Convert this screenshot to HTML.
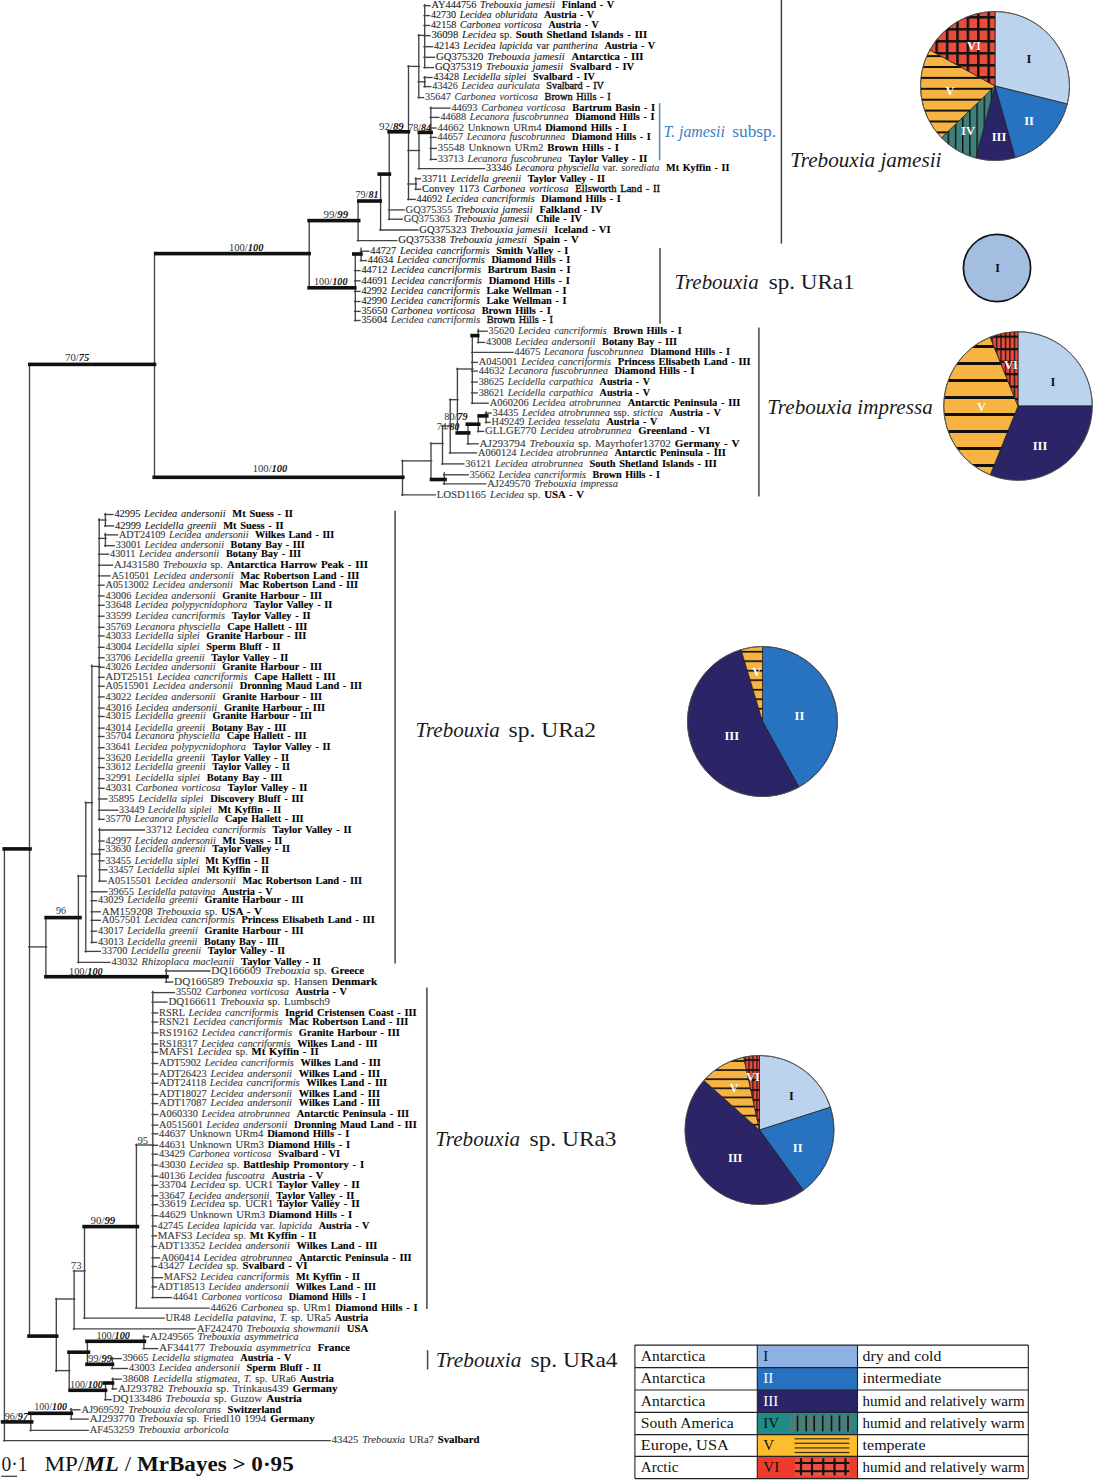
<!DOCTYPE html>
<html><head><meta charset="utf-8"><style>
html,body{margin:0;padding:0;background:#fff;}
svg{display:block;font-family:"Liberation Serif",serif;}
.lb{word-spacing:1.0px;}

</style></head><body>
<svg width="1093" height="1480" viewBox="0 0 1093 1480">
<defs><pattern id="p1V" patternUnits="userSpaceOnUse" x="0" y="87.80" width="200" height="10.9"><rect width="200" height="10.9" fill="#f8b443"/><rect y="0" width="200" height="2.0" fill="#111"/></pattern><pattern id="p1IV" patternUnits="userSpaceOnUse" x="947.60" y="0" width="7.2" height="200"><rect width="7.2" height="200" fill="#3f807a"/><rect x="0" width="1.4" height="200" fill="#111"/></pattern><pattern id="p1VI" patternUnits="userSpaceOnUse" x="935.45" y="16.05" width="10.4" height="12.0"><rect width="10.4" height="12.0" fill="#e94c3b"/><rect x="0" width="2.5" height="12.0" fill="#111"/><rect y="0" width="10.4" height="2.5" fill="#111"/></pattern><pattern id="p3V" patternUnits="userSpaceOnUse" x="0" y="345.00" width="200" height="17.0"><rect width="200" height="17.0" fill="#f8b443"/><rect y="0" width="200" height="3.0" fill="#111"/></pattern><pattern id="p3VI" patternUnits="userSpaceOnUse" x="1000.35" y="335.60" width="4.46" height="12.5"><rect width="4.46" height="12.5" fill="#e94c3b"/><rect x="0" width="1.3" height="12.5" fill="#111"/><rect y="0" width="4.46" height="2.2" fill="#111"/></pattern><pattern id="p4V" patternUnits="userSpaceOnUse" x="0" y="650.85" width="200" height="9.5"><rect width="200" height="9.5" fill="#f8b443"/><rect y="0" width="200" height="1.7" fill="#111"/></pattern><pattern id="p5V" patternUnits="userSpaceOnUse" x="0" y="1060.15" width="200" height="9.1"><rect width="200" height="9.1" fill="#f8b443"/><rect y="0" width="200" height="1.7" fill="#111"/></pattern><pattern id="p5VI" patternUnits="userSpaceOnUse" x="756.40" y="1059.10" width="4.0" height="10.0"><rect width="4.0" height="10.0" fill="#e94c3b"/><rect x="0" width="1.2" height="10.0" fill="#111"/><rect y="0" width="4.0" height="1.8" fill="#111"/></pattern></defs>
<rect width="1093" height="1480" fill="#fff"/>
<line x1="423.3" y1="5.7" x2="430.7" y2="5.7" stroke="#444" stroke-width="1.35"/>
<text x="431.5" y="8.4" font-size="9.6" class="lb" textLength="182.7" lengthAdjust="spacingAndGlyphs"><tspan  fill="#1c1c1c" stroke="#1c1c1c" stroke-width="0.1">AY444756 </tspan><tspan font-style="italic" fill="#1c1c1c" stroke="#1c1c1c" stroke-width="0.1">Trebouxia jamesii </tspan><tspan dx="2.8" font-weight="bold" fill="#000" stroke="#000" stroke-width="0.1">Finland - V</tspan></text>
<line x1="423.3" y1="15.6" x2="430.2" y2="15.6" stroke="#444" stroke-width="1.35"/>
<text x="431.0" y="18.3" font-size="9.6" class="lb" textLength="163.1" lengthAdjust="spacingAndGlyphs"><tspan  fill="#1c1c1c" stroke="#1c1c1c" stroke-width="0.1">42730 </tspan><tspan font-style="italic" fill="#1c1c1c" stroke="#1c1c1c" stroke-width="0.1">Lecidea obluridata </tspan><tspan dx="2.8" font-weight="bold" fill="#000" stroke="#000" stroke-width="0.1">Austria - V</tspan></text>
<line x1="423.3" y1="25.5" x2="430.2" y2="25.5" stroke="#444" stroke-width="1.35"/>
<text x="431.0" y="28.2" font-size="9.6" class="lb" textLength="167.8" lengthAdjust="spacingAndGlyphs"><tspan  fill="#1c1c1c" stroke="#1c1c1c" stroke-width="0.1">42158 </tspan><tspan font-style="italic" fill="#1c1c1c" stroke="#1c1c1c" stroke-width="0.1">Carbonea vorticosa </tspan><tspan dx="2.8" font-weight="bold" fill="#000" stroke="#000" stroke-width="0.1">Austria - V</tspan></text>
<line x1="423.3" y1="35.7" x2="430.7" y2="35.7" stroke="#444" stroke-width="1.35"/>
<text x="431.5" y="38.4" font-size="9.6" class="lb" textLength="215.7" lengthAdjust="spacingAndGlyphs"><tspan  fill="#1c1c1c" stroke="#1c1c1c" stroke-width="0.1">36098 </tspan><tspan font-style="italic" fill="#1c1c1c" stroke="#1c1c1c" stroke-width="0.1">Lecidea </tspan><tspan  fill="#1c1c1c" stroke="#1c1c1c" stroke-width="0.1"> sp. </tspan><tspan font-weight="bold" fill="#000" stroke="#000" stroke-width="0.1">South Shetland Islands - III</tspan></text>
<line x1="423.3" y1="46.7" x2="433.2" y2="46.7" stroke="#444" stroke-width="1.35"/>
<text x="434.0" y="49.4" font-size="9.6" class="lb" textLength="221.2" lengthAdjust="spacingAndGlyphs"><tspan  fill="#1c1c1c" stroke="#1c1c1c" stroke-width="0.1">42143 </tspan><tspan font-style="italic" fill="#1c1c1c" stroke="#1c1c1c" stroke-width="0.1">Lecidea lapicida </tspan><tspan  fill="#1c1c1c" stroke="#1c1c1c" stroke-width="0.1">var </tspan><tspan font-style="italic" fill="#1c1c1c" stroke="#1c1c1c" stroke-width="0.1">pantherina </tspan><tspan dx="2.8" font-weight="bold" fill="#000" stroke="#000" stroke-width="0.1">Austria - V</tspan></text>
<line x1="423.3" y1="57.3" x2="435.2" y2="57.3" stroke="#444" stroke-width="1.35"/>
<text x="436.0" y="60.0" font-size="9.6" class="lb" textLength="207.5" lengthAdjust="spacingAndGlyphs"><tspan  fill="#1c1c1c" stroke="#1c1c1c" stroke-width="0.1">GQ375320 </tspan><tspan font-style="italic" fill="#1c1c1c" stroke="#1c1c1c" stroke-width="0.1">Trebouxia jamesii </tspan><tspan dx="2.8" font-weight="bold" fill="#000" stroke="#000" stroke-width="0.1">Antarctica - III</tspan></text>
<line x1="423.3" y1="67.6" x2="434.1" y2="67.6" stroke="#444" stroke-width="1.35"/>
<text x="434.9" y="70.3" font-size="9.6" class="lb" textLength="199.4" lengthAdjust="spacingAndGlyphs"><tspan  fill="#1c1c1c" stroke="#1c1c1c" stroke-width="0.1">GQ375319 </tspan><tspan font-style="italic" fill="#1c1c1c" stroke="#1c1c1c" stroke-width="0.1">Trebouxia jamesii </tspan><tspan dx="2.8" font-weight="bold" fill="#000" stroke="#000" stroke-width="0.1">Svalbard - IV</tspan></text>
<line x1="423.3" y1="77.5" x2="432.7" y2="77.5" stroke="#444" stroke-width="1.35"/>
<text x="433.5" y="80.2" font-size="9.6" class="lb" textLength="161.3" lengthAdjust="spacingAndGlyphs"><tspan  fill="#1c1c1c" stroke="#1c1c1c" stroke-width="0.1">43428 </tspan><tspan font-style="italic" fill="#1c1c1c" stroke="#1c1c1c" stroke-width="0.1">Lecidella siplei </tspan><tspan dx="2.8" font-weight="bold" fill="#000" stroke="#000" stroke-width="0.1"> Svalbard - IV</tspan></text>
<line x1="423.3" y1="86.6" x2="431.5" y2="86.6" stroke="#444" stroke-width="1.35"/>
<text x="432.3" y="89.3" font-size="9.6" class="lb" textLength="171.7" lengthAdjust="spacingAndGlyphs"><tspan  fill="#3a3a3a" stroke="#3a3a3a" stroke-width="0.1">43426 </tspan><tspan font-style="italic" fill="#3a3a3a" stroke="#3a3a3a" stroke-width="0.1">Lecidea auriculata </tspan><tspan dx="2.8" fill="#111" stroke="#111" stroke-width="0.35">Svalbard - IV</tspan></text>
<line x1="417.4" y1="97.6" x2="424.2" y2="97.6" stroke="#444" stroke-width="1.35"/>
<text x="425.0" y="100.3" font-size="9.6" class="lb" textLength="185.6" lengthAdjust="spacingAndGlyphs"><tspan  fill="#3a3a3a" stroke="#3a3a3a" stroke-width="0.1">35647 </tspan><tspan font-style="italic" fill="#3a3a3a" stroke="#3a3a3a" stroke-width="0.1">Carbonea vorticosa </tspan><tspan dx="2.8" fill="#111" stroke="#111" stroke-width="0.35">Brown Hills - I</tspan></text>
<line x1="429.5" y1="108.1" x2="450.6" y2="108.1" stroke="#444" stroke-width="1.35"/>
<text x="451.4" y="110.8" font-size="9.6" class="lb" textLength="203.8" lengthAdjust="spacingAndGlyphs"><tspan  fill="#3a3a3a" stroke="#3a3a3a" stroke-width="0.1">44693 </tspan><tspan font-style="italic" fill="#3a3a3a" stroke="#3a3a3a" stroke-width="0.1">Carbonea vorticosa </tspan><tspan dx="2.8" font-weight="bold" fill="#000" stroke="#000" stroke-width="0.1">Bartrum Basin - I</tspan></text>
<line x1="429.5" y1="117.4" x2="439.6" y2="117.4" stroke="#444" stroke-width="1.35"/>
<text x="440.4" y="120.1" font-size="9.6" class="lb" textLength="214.1" lengthAdjust="spacingAndGlyphs"><tspan  fill="#3a3a3a" stroke="#3a3a3a" stroke-width="0.1">44688 </tspan><tspan font-style="italic" fill="#3a3a3a" stroke="#3a3a3a" stroke-width="0.1">Lecanora fuscobrunnea </tspan><tspan dx="2.8" font-weight="bold" fill="#000" stroke="#000" stroke-width="0.1">Diamond Hills - I</tspan></text>
<line x1="429.5" y1="128.0" x2="436.7" y2="128.0" stroke="#444" stroke-width="1.35"/>
<text x="437.5" y="130.7" font-size="9.6" class="lb" textLength="189.5" lengthAdjust="spacingAndGlyphs"><tspan  fill="#3a3a3a" stroke="#3a3a3a" stroke-width="0.1">44662 Unknown URm4 </tspan><tspan font-weight="bold" fill="#000" stroke="#000" stroke-width="0.1">Diamond Hills - I</tspan></text>
<line x1="429.5" y1="137.4" x2="436.7" y2="137.4" stroke="#444" stroke-width="1.35"/>
<text x="437.5" y="140.1" font-size="9.6" class="lb" textLength="213.3" lengthAdjust="spacingAndGlyphs"><tspan  fill="#3a3a3a" stroke="#3a3a3a" stroke-width="0.1">44657 </tspan><tspan font-style="italic" fill="#3a3a3a" stroke="#3a3a3a" stroke-width="0.1">Lecanora fuscobrunnea </tspan><tspan dx="2.8" font-weight="bold" fill="#000" stroke="#000" stroke-width="0.1">Diamond Hills - I</tspan></text>
<line x1="429.5" y1="148.4" x2="437.0" y2="148.4" stroke="#444" stroke-width="1.35"/>
<text x="437.8" y="151.1" font-size="9.6" class="lb" textLength="181.2" lengthAdjust="spacingAndGlyphs"><tspan  fill="#3a3a3a" stroke="#3a3a3a" stroke-width="0.1">35548 Unknown URm2 </tspan><tspan font-weight="bold" fill="#000" stroke="#000" stroke-width="0.1">Brown Hills - I</tspan></text>
<line x1="429.5" y1="159.4" x2="437.0" y2="159.4" stroke="#444" stroke-width="1.35"/>
<text x="437.8" y="162.1" font-size="9.6" class="lb" textLength="209.4" lengthAdjust="spacingAndGlyphs"><tspan  fill="#3a3a3a" stroke="#3a3a3a" stroke-width="0.1">33713 </tspan><tspan font-style="italic" fill="#3a3a3a" stroke="#3a3a3a" stroke-width="0.1">Lecanora fuscobrunea </tspan><tspan dx="2.8" font-weight="bold" fill="#000" stroke="#000" stroke-width="0.1">Taylor Valley - II</tspan></text>
<line x1="417.6" y1="168.6" x2="485.3" y2="168.6" stroke="#444" stroke-width="1.35"/>
<text x="486.1" y="171.3" font-size="9.6" class="lb" textLength="243.4" lengthAdjust="spacingAndGlyphs"><tspan  fill="#1c1c1c" stroke="#1c1c1c" stroke-width="0.1">33346 </tspan><tspan font-style="italic" fill="#1c1c1c" stroke="#1c1c1c" stroke-width="0.1">Lecanora physciella </tspan><tspan  fill="#3a3a3a" stroke="#3a3a3a" stroke-width="0.1">var. </tspan><tspan font-style="italic" fill="#3a3a3a" stroke="#3a3a3a" stroke-width="0.1">sorediata </tspan><tspan dx="2.8" font-weight="bold" fill="#000" stroke="#000" stroke-width="0.1">Mt Kyffin - II</tspan></text>
<line x1="414.5" y1="178.8" x2="421.2" y2="178.8" stroke="#444" stroke-width="1.35"/>
<text x="422.0" y="181.5" font-size="9.6" class="lb" textLength="183.0" lengthAdjust="spacingAndGlyphs"><tspan  fill="#1c1c1c" stroke="#1c1c1c" stroke-width="0.1">33711 </tspan><tspan font-style="italic" fill="#1c1c1c" stroke="#1c1c1c" stroke-width="0.1">Lecidella greenii </tspan><tspan dx="2.8" font-weight="bold" fill="#000" stroke="#000" stroke-width="0.1">Taylor Valley - II</tspan></text>
<line x1="414.5" y1="189.3" x2="421.2" y2="189.3" stroke="#444" stroke-width="1.35"/>
<text x="422.0" y="192.0" font-size="9.6" class="lb" textLength="238.0" lengthAdjust="spacingAndGlyphs"><tspan  fill="#1c1c1c" stroke="#1c1c1c" stroke-width="0.1">Convey 1173 </tspan><tspan font-style="italic" fill="#1c1c1c" stroke="#1c1c1c" stroke-width="0.1">Carbonea vorticosa </tspan><tspan dx="2.8" fill="#111" stroke="#111" stroke-width="0.35">Ellsworth Land - II</tspan></text>
<line x1="407.1" y1="199.4" x2="415.8" y2="199.4" stroke="#444" stroke-width="1.35"/>
<text x="416.6" y="202.1" font-size="9.6" class="lb" textLength="204.2" lengthAdjust="spacingAndGlyphs"><tspan  fill="#1c1c1c" stroke="#1c1c1c" stroke-width="0.1">44692 </tspan><tspan font-style="italic" fill="#1c1c1c" stroke="#1c1c1c" stroke-width="0.1">Lecidea cancriformis </tspan><tspan dx="2.8" font-weight="bold" fill="#000" stroke="#000" stroke-width="0.1">Diamond Hills - I</tspan></text>
<line x1="387.8" y1="209.9" x2="404.8" y2="209.9" stroke="#444" stroke-width="1.35"/>
<text x="405.6" y="212.6" font-size="9.6" class="lb" textLength="196.9" lengthAdjust="spacingAndGlyphs"><tspan  fill="#3a3a3a" stroke="#3a3a3a" stroke-width="0.1">GQ375355 </tspan><tspan font-style="italic" fill="#1c1c1c" stroke="#1c1c1c" stroke-width="0.1">Trebouxia jamesii </tspan><tspan dx="2.8" font-weight="bold" fill="#000" stroke="#000" stroke-width="0.1">Falkland - IV</tspan></text>
<line x1="387.8" y1="219.2" x2="403.0" y2="219.2" stroke="#444" stroke-width="1.35"/>
<text x="403.8" y="221.9" font-size="9.6" class="lb" textLength="178.2" lengthAdjust="spacingAndGlyphs"><tspan  fill="#3a3a3a" stroke="#3a3a3a" stroke-width="0.1">GQ375363 </tspan><tspan font-style="italic" fill="#1c1c1c" stroke="#1c1c1c" stroke-width="0.1">Trebouxia jamesii </tspan><tspan dx="2.8" font-weight="bold" fill="#000" stroke="#000" stroke-width="0.1">Chile - IV</tspan></text>
<line x1="379.2" y1="230.0" x2="418.5" y2="230.0" stroke="#444" stroke-width="1.35"/>
<text x="419.3" y="232.7" font-size="9.6" class="lb" textLength="191.3" lengthAdjust="spacingAndGlyphs"><tspan  fill="#1c1c1c" stroke="#1c1c1c" stroke-width="0.1">GQ375323 </tspan><tspan font-style="italic" fill="#1c1c1c" stroke="#1c1c1c" stroke-width="0.1">Trebouxia jamesii </tspan><tspan dx="2.8" font-weight="bold" fill="#000" stroke="#000" stroke-width="0.1">Iceland - VI</tspan></text>
<line x1="356.7" y1="240.6" x2="397.5" y2="240.6" stroke="#444" stroke-width="1.35"/>
<text x="398.3" y="243.3" font-size="9.6" class="lb" textLength="180.3" lengthAdjust="spacingAndGlyphs"><tspan  fill="#1c1c1c" stroke="#1c1c1c" stroke-width="0.1">GQ375338 </tspan><tspan font-style="italic" fill="#1c1c1c" stroke="#1c1c1c" stroke-width="0.1">Trebouxia jamesii </tspan><tspan dx="2.8" font-weight="bold" fill="#000" stroke="#000" stroke-width="0.1">Spain - V</tspan></text>
<line x1="359.7" y1="251.2" x2="369.5" y2="251.2" stroke="#444" stroke-width="1.35"/>
<text x="370.3" y="253.9" font-size="9.6" class="lb" textLength="198.1" lengthAdjust="spacingAndGlyphs"><tspan  fill="#1c1c1c" stroke="#1c1c1c" stroke-width="0.1">44727 </tspan><tspan font-style="italic" fill="#1c1c1c" stroke="#1c1c1c" stroke-width="0.1">Lecidea cancriformis </tspan><tspan dx="2.8" font-weight="bold" fill="#000" stroke="#000" stroke-width="0.1">Smith Valley - I</tspan></text>
<line x1="359.7" y1="260.6" x2="367.0" y2="260.6" stroke="#444" stroke-width="1.35"/>
<text x="367.8" y="263.3" font-size="9.6" class="lb" textLength="202.4" lengthAdjust="spacingAndGlyphs"><tspan  fill="#1c1c1c" stroke="#1c1c1c" stroke-width="0.1">44634 </tspan><tspan font-style="italic" fill="#1c1c1c" stroke="#1c1c1c" stroke-width="0.1">Lecidea cancriformis </tspan><tspan dx="2.8" font-weight="bold" fill="#000" stroke="#000" stroke-width="0.1">Diamond Hills - I</tspan></text>
<line x1="353.9" y1="270.6" x2="360.6" y2="270.6" stroke="#444" stroke-width="1.35"/>
<text x="361.4" y="273.3" font-size="9.6" class="lb" textLength="209.2" lengthAdjust="spacingAndGlyphs"><tspan  fill="#1c1c1c" stroke="#1c1c1c" stroke-width="0.1">44712 </tspan><tspan font-style="italic" fill="#1c1c1c" stroke="#1c1c1c" stroke-width="0.1">Lecidea cancriformis </tspan><tspan dx="2.8" font-weight="bold" fill="#000" stroke="#000" stroke-width="0.1">Bartrum Basin - I</tspan></text>
<line x1="353.9" y1="280.8" x2="360.6" y2="280.8" stroke="#444" stroke-width="1.35"/>
<text x="361.4" y="283.5" font-size="9.6" class="lb" textLength="208.5" lengthAdjust="spacingAndGlyphs"><tspan  fill="#1c1c1c" stroke="#1c1c1c" stroke-width="0.1">44691 </tspan><tspan font-style="italic" fill="#1c1c1c" stroke="#1c1c1c" stroke-width="0.1">Lecidea cancriformis </tspan><tspan dx="2.8" font-weight="bold" fill="#000" stroke="#000" stroke-width="0.1">Diamond Hills - I</tspan></text>
<line x1="353.9" y1="291.4" x2="360.6" y2="291.4" stroke="#444" stroke-width="1.35"/>
<text x="361.4" y="294.1" font-size="9.6" class="lb" textLength="205.2" lengthAdjust="spacingAndGlyphs"><tspan  fill="#1c1c1c" stroke="#1c1c1c" stroke-width="0.1">42992 </tspan><tspan font-style="italic" fill="#1c1c1c" stroke="#1c1c1c" stroke-width="0.1">Lecidea cancriformis </tspan><tspan dx="2.8" font-weight="bold" fill="#000" stroke="#000" stroke-width="0.1">Lake Wellman - I</tspan></text>
<line x1="353.9" y1="301.5" x2="360.6" y2="301.5" stroke="#444" stroke-width="1.35"/>
<text x="361.4" y="304.2" font-size="9.6" class="lb" textLength="205.2" lengthAdjust="spacingAndGlyphs"><tspan  fill="#1c1c1c" stroke="#1c1c1c" stroke-width="0.1">42990 </tspan><tspan font-style="italic" fill="#1c1c1c" stroke="#1c1c1c" stroke-width="0.1">Lecidea cancriformis </tspan><tspan dx="2.8" font-weight="bold" fill="#000" stroke="#000" stroke-width="0.1">Lake Wellman - I</tspan></text>
<line x1="353.9" y1="311.4" x2="360.6" y2="311.4" stroke="#444" stroke-width="1.35"/>
<text x="361.4" y="314.1" font-size="9.6" class="lb" textLength="189.4" lengthAdjust="spacingAndGlyphs"><tspan  fill="#1c1c1c" stroke="#1c1c1c" stroke-width="0.1">35650 </tspan><tspan font-style="italic" fill="#1c1c1c" stroke="#1c1c1c" stroke-width="0.1">Carbonea vorticosa </tspan><tspan dx="2.8" font-weight="bold" fill="#000" stroke="#000" stroke-width="0.1">Brown Hills - I</tspan></text>
<line x1="353.9" y1="320.5" x2="360.6" y2="320.5" stroke="#444" stroke-width="1.35"/>
<text x="361.4" y="323.2" font-size="9.6" class="lb" textLength="191.6" lengthAdjust="spacingAndGlyphs"><tspan  fill="#1c1c1c" stroke="#1c1c1c" stroke-width="0.1">35604 </tspan><tspan font-style="italic" fill="#3a3a3a" stroke="#3a3a3a" stroke-width="0.1">Lecidea cancriformis </tspan><tspan dx="2.8" fill="#111" stroke="#111" stroke-width="0.35">Brown Hills - I</tspan></text>
<line x1="476.9" y1="331.2" x2="487.8" y2="331.2" stroke="#444" stroke-width="1.35"/>
<text x="488.6" y="333.9" font-size="9.6" class="lb" textLength="193.2" lengthAdjust="spacingAndGlyphs"><tspan  fill="#3a3a3a" stroke="#3a3a3a" stroke-width="0.1">35620 </tspan><tspan font-style="italic" fill="#3a3a3a" stroke="#3a3a3a" stroke-width="0.1">Lecidea cancriformis </tspan><tspan dx="2.8" font-weight="bold" fill="#000" stroke="#000" stroke-width="0.1">Brown Hills - I</tspan></text>
<line x1="476.9" y1="342.4" x2="485.2" y2="342.4" stroke="#444" stroke-width="1.35"/>
<text x="486.0" y="345.1" font-size="9.6" class="lb" textLength="191.0" lengthAdjust="spacingAndGlyphs"><tspan  fill="#3a3a3a" stroke="#3a3a3a" stroke-width="0.1">43008 </tspan><tspan font-style="italic" fill="#3a3a3a" stroke="#3a3a3a" stroke-width="0.1">Lecidea andersonii </tspan><tspan dx="2.8" font-weight="bold" fill="#000" stroke="#000" stroke-width="0.1">Botany Bay - III</tspan></text>
<line x1="470.9" y1="352.4" x2="513.7" y2="352.4" stroke="#444" stroke-width="1.35"/>
<text x="514.5" y="355.1" font-size="9.6" class="lb" textLength="215.6" lengthAdjust="spacingAndGlyphs"><tspan  fill="#3a3a3a" stroke="#3a3a3a" stroke-width="0.1">44675 </tspan><tspan font-style="italic" fill="#3a3a3a" stroke="#3a3a3a" stroke-width="0.1">Lecanora fuscobrunnea </tspan><tspan dx="2.8" font-weight="bold" fill="#000" stroke="#000" stroke-width="0.1">Diamond Hills - I</tspan></text>
<line x1="470.9" y1="362.4" x2="477.9" y2="362.4" stroke="#444" stroke-width="1.35"/>
<text x="478.7" y="365.1" font-size="9.6" class="lb" textLength="271.9" lengthAdjust="spacingAndGlyphs"><tspan  fill="#3a3a3a" stroke="#3a3a3a" stroke-width="0.1">A045001 </tspan><tspan font-style="italic" fill="#3a3a3a" stroke="#3a3a3a" stroke-width="0.1">Lecidea cancriformis </tspan><tspan dx="2.8" font-weight="bold" fill="#000" stroke="#000" stroke-width="0.1">Princess Elisabeth Land - III</tspan></text>
<line x1="470.9" y1="371.1" x2="477.9" y2="371.1" stroke="#444" stroke-width="1.35"/>
<text x="478.7" y="373.8" font-size="9.6" class="lb" textLength="215.9" lengthAdjust="spacingAndGlyphs"><tspan  fill="#3a3a3a" stroke="#3a3a3a" stroke-width="0.1">44632 </tspan><tspan font-style="italic" fill="#3a3a3a" stroke="#3a3a3a" stroke-width="0.1">Lecanora fuscobrunnea </tspan><tspan dx="2.8" font-weight="bold" fill="#000" stroke="#000" stroke-width="0.1">Diamond Hills - I</tspan></text>
<line x1="470.9" y1="382.1" x2="477.9" y2="382.1" stroke="#444" stroke-width="1.35"/>
<text x="478.7" y="384.8" font-size="9.6" class="lb" textLength="171.3" lengthAdjust="spacingAndGlyphs"><tspan  fill="#3a3a3a" stroke="#3a3a3a" stroke-width="0.1">38625 </tspan><tspan font-style="italic" fill="#3a3a3a" stroke="#3a3a3a" stroke-width="0.1">Lecidella carpathica </tspan><tspan dx="2.8" font-weight="bold" fill="#000" stroke="#000" stroke-width="0.1">Austria - V</tspan></text>
<line x1="470.9" y1="392.9" x2="477.9" y2="392.9" stroke="#444" stroke-width="1.35"/>
<text x="478.7" y="395.6" font-size="9.6" class="lb" textLength="171.3" lengthAdjust="spacingAndGlyphs"><tspan  fill="#3a3a3a" stroke="#3a3a3a" stroke-width="0.1">38621 </tspan><tspan font-style="italic" fill="#3a3a3a" stroke="#3a3a3a" stroke-width="0.1">Lecidella carpathica </tspan><tspan dx="2.8" font-weight="bold" fill="#000" stroke="#000" stroke-width="0.1">Austria - V</tspan></text>
<line x1="470.9" y1="403.2" x2="488.9" y2="403.2" stroke="#444" stroke-width="1.35"/>
<text x="489.7" y="405.9" font-size="9.6" class="lb" textLength="250.7" lengthAdjust="spacingAndGlyphs"><tspan  fill="#3a3a3a" stroke="#3a3a3a" stroke-width="0.1">A060206 </tspan><tspan font-style="italic" fill="#3a3a3a" stroke="#3a3a3a" stroke-width="0.1">Lecidea atrobrunnea </tspan><tspan dx="2.8" font-weight="bold" fill="#000" stroke="#000" stroke-width="0.1">Antarctic Peninsula - III</tspan></text>
<line x1="484.7" y1="413.1" x2="491.8" y2="413.1" stroke="#444" stroke-width="1.35"/>
<text x="492.6" y="415.8" font-size="9.6" class="lb" textLength="228.4" lengthAdjust="spacingAndGlyphs"><tspan  fill="#3a3a3a" stroke="#3a3a3a" stroke-width="0.1">34435 </tspan><tspan font-style="italic" fill="#3a3a3a" stroke="#3a3a3a" stroke-width="0.1">Lecidea atrobrunnea </tspan><tspan  fill="#3a3a3a" stroke="#3a3a3a" stroke-width="0.1">ssp. </tspan><tspan font-style="italic" fill="#3a3a3a" stroke="#3a3a3a" stroke-width="0.1">stictica </tspan><tspan dx="2.8" font-weight="bold" fill="#000" stroke="#000" stroke-width="0.1">Austria - V</tspan></text>
<line x1="484.7" y1="422.4" x2="490.7" y2="422.4" stroke="#444" stroke-width="1.35"/>
<text x="491.5" y="425.1" font-size="9.6" class="lb" textLength="165.8" lengthAdjust="spacingAndGlyphs"><tspan  fill="#3a3a3a" stroke="#3a3a3a" stroke-width="0.1">H49249 </tspan><tspan font-style="italic" fill="#3a3a3a" stroke="#3a3a3a" stroke-width="0.1">Lecidea tesselata </tspan><tspan dx="2.8" font-weight="bold" fill="#000" stroke="#000" stroke-width="0.1">Austria - V</tspan></text>
<line x1="476.9" y1="431.4" x2="484.2" y2="431.4" stroke="#444" stroke-width="1.35"/>
<text x="485.0" y="434.1" font-size="9.6" class="lb" textLength="225.0" lengthAdjust="spacingAndGlyphs"><tspan  fill="#3a3a3a" stroke="#3a3a3a" stroke-width="0.1">GLLGE770 </tspan><tspan font-style="italic" fill="#3a3a3a" stroke="#3a3a3a" stroke-width="0.1">Lecidea atrobrunnea </tspan><tspan dx="2.8" font-weight="bold" fill="#000" stroke="#000" stroke-width="0.1">Greenland - VI</tspan></text>
<line x1="466.6" y1="443.8" x2="478.7" y2="443.8" stroke="#444" stroke-width="1.35"/>
<text x="479.5" y="446.5" font-size="9.6" class="lb" textLength="260.2" lengthAdjust="spacingAndGlyphs"><tspan  fill="#3a3a3a" stroke="#3a3a3a" stroke-width="0.1">AJ293794 </tspan><tspan font-style="italic" fill="#3a3a3a" stroke="#3a3a3a" stroke-width="0.1">Trebouxia </tspan><tspan  fill="#3a3a3a" stroke="#3a3a3a" stroke-width="0.1">sp. Mayrhofer13702 </tspan><tspan font-weight="bold" fill="#000" stroke="#000" stroke-width="0.1">Germany - V</tspan></text>
<line x1="448.8" y1="452.9" x2="477.2" y2="452.9" stroke="#444" stroke-width="1.35"/>
<text x="478.0" y="455.6" font-size="9.6" class="lb" textLength="247.8" lengthAdjust="spacingAndGlyphs"><tspan  fill="#3a3a3a" stroke="#3a3a3a" stroke-width="0.1">A060124 </tspan><tspan font-style="italic" fill="#3a3a3a" stroke="#3a3a3a" stroke-width="0.1">Lecidea atrobrunnea </tspan><tspan dx="2.8" font-weight="bold" fill="#000" stroke="#000" stroke-width="0.1">Antarctic Peninsula - III</tspan></text>
<line x1="441.1" y1="463.9" x2="464.5" y2="463.9" stroke="#444" stroke-width="1.35"/>
<text x="465.3" y="466.6" font-size="9.6" class="lb" textLength="251.4" lengthAdjust="spacingAndGlyphs"><tspan  fill="#3a3a3a" stroke="#3a3a3a" stroke-width="0.1">36121 </tspan><tspan font-style="italic" fill="#3a3a3a" stroke="#3a3a3a" stroke-width="0.1">Lecidea atrobrunnea </tspan><tspan dx="2.8" font-weight="bold" fill="#000" stroke="#000" stroke-width="0.1">South Shetland Islands - III</tspan></text>
<line x1="442.9" y1="474.8" x2="468.9" y2="474.8" stroke="#444" stroke-width="1.35"/>
<text x="469.7" y="477.5" font-size="9.6" class="lb" textLength="190.3" lengthAdjust="spacingAndGlyphs"><tspan  fill="#3a3a3a" stroke="#3a3a3a" stroke-width="0.1">35662 </tspan><tspan font-style="italic" fill="#3a3a3a" stroke="#3a3a3a" stroke-width="0.1">Lecidea cancriformis </tspan><tspan dx="2.8" font-weight="bold" fill="#000" stroke="#000" stroke-width="0.1">Brown Hills - I</tspan></text>
<line x1="442.9" y1="483.9" x2="486.4" y2="483.9" stroke="#444" stroke-width="1.35"/>
<text x="487.2" y="486.6" font-size="9.6" class="lb" textLength="130.7" lengthAdjust="spacingAndGlyphs"><tspan  fill="#3a3a3a" stroke="#3a3a3a" stroke-width="0.1">AJ249570 </tspan><tspan font-style="italic" fill="#3a3a3a" stroke="#3a3a3a" stroke-width="0.1">Trebouxia impressa</tspan></text>
<line x1="401.1" y1="494.9" x2="435.9" y2="494.9" stroke="#444" stroke-width="1.35"/>
<text x="436.7" y="497.6" font-size="9.6" class="lb" textLength="147.5" lengthAdjust="spacingAndGlyphs"><tspan  fill="#3a3a3a" stroke="#3a3a3a" stroke-width="0.1">LOSD1165 </tspan><tspan font-style="italic" fill="#3a3a3a" stroke="#3a3a3a" stroke-width="0.1">Lecidea </tspan><tspan  fill="#3a3a3a" stroke="#3a3a3a" stroke-width="0.1"> sp. </tspan><tspan font-weight="bold" fill="#000" stroke="#000" stroke-width="0.1">USA - V</tspan></text>
<line x1="104.0" y1="514.5" x2="113.6" y2="514.5" stroke="#444" stroke-width="1.35"/>
<text x="114.4" y="517.2" font-size="9.6" class="lb" textLength="178.4" lengthAdjust="spacingAndGlyphs"><tspan  fill="#1c1c1c" stroke="#1c1c1c" stroke-width="0.1">42995 </tspan><tspan font-style="italic" fill="#1c1c1c" stroke="#1c1c1c" stroke-width="0.1">Lecidea andersonii </tspan><tspan dx="2.8" font-weight="bold" fill="#000" stroke="#000" stroke-width="0.1">Mt Suess - II</tspan></text>
<line x1="104.0" y1="525.9" x2="114.2" y2="525.9" stroke="#444" stroke-width="1.35"/>
<text x="115.0" y="528.6" font-size="9.6" class="lb" textLength="168.6" lengthAdjust="spacingAndGlyphs"><tspan  fill="#1c1c1c" stroke="#1c1c1c" stroke-width="0.1">42999 </tspan><tspan font-style="italic" fill="#1c1c1c" stroke="#1c1c1c" stroke-width="0.1">Lecidella greenii </tspan><tspan dx="2.8" font-weight="bold" fill="#000" stroke="#000" stroke-width="0.1">Mt Suess - II</tspan></text>
<line x1="104.0" y1="534.9" x2="118.2" y2="534.9" stroke="#444" stroke-width="1.35"/>
<text x="119.0" y="537.6" font-size="9.6" class="lb" textLength="215.3" lengthAdjust="spacingAndGlyphs"><tspan  fill="#3a3a3a" stroke="#3a3a3a" stroke-width="0.1">ADT24109 </tspan><tspan font-style="italic" fill="#3a3a3a" stroke="#3a3a3a" stroke-width="0.1">Lecidea andersonii </tspan><tspan dx="2.8" font-weight="bold" fill="#000" stroke="#000" stroke-width="0.1">Wilkes Land - III</tspan></text>
<line x1="104.0" y1="545.7" x2="114.9" y2="545.7" stroke="#444" stroke-width="1.35"/>
<text x="115.7" y="548.4" font-size="9.6" class="lb" textLength="189.0" lengthAdjust="spacingAndGlyphs"><tspan  fill="#3a3a3a" stroke="#3a3a3a" stroke-width="0.1">33001 </tspan><tspan font-style="italic" fill="#3a3a3a" stroke="#3a3a3a" stroke-width="0.1">Lecidea andersonii </tspan><tspan dx="2.8" font-weight="bold" fill="#000" stroke="#000" stroke-width="0.1">Botany Bay - III</tspan></text>
<line x1="97.8" y1="554.2" x2="109.2" y2="554.2" stroke="#444" stroke-width="1.35"/>
<text x="110.0" y="556.9" font-size="9.6" class="lb" textLength="190.9" lengthAdjust="spacingAndGlyphs"><tspan  fill="#3a3a3a" stroke="#3a3a3a" stroke-width="0.1">43011 </tspan><tspan font-style="italic" fill="#3a3a3a" stroke="#3a3a3a" stroke-width="0.1">Lecidea andersonii </tspan><tspan dx="2.8" font-weight="bold" fill="#000" stroke="#000" stroke-width="0.1">Botany Bay - III</tspan></text>
<line x1="97.8" y1="565.2" x2="113.3" y2="565.2" stroke="#444" stroke-width="1.35"/>
<text x="114.1" y="567.9" font-size="9.6" class="lb" textLength="254.0" lengthAdjust="spacingAndGlyphs"><tspan  fill="#3a3a3a" stroke="#3a3a3a" stroke-width="0.1">AJ431580 </tspan><tspan font-style="italic" fill="#3a3a3a" stroke="#3a3a3a" stroke-width="0.1">Trebouxia </tspan><tspan  fill="#3a3a3a" stroke="#3a3a3a" stroke-width="0.1"> sp. </tspan><tspan font-weight="bold" fill="#000" stroke="#000" stroke-width="0.1">Antarctica Harrow Peak - III</tspan></text>
<line x1="97.8" y1="575.9" x2="110.6" y2="575.9" stroke="#444" stroke-width="1.35"/>
<text x="111.4" y="578.6" font-size="9.6" class="lb" textLength="247.9" lengthAdjust="spacingAndGlyphs"><tspan  fill="#3a3a3a" stroke="#3a3a3a" stroke-width="0.1">A510501 </tspan><tspan font-style="italic" fill="#3a3a3a" stroke="#3a3a3a" stroke-width="0.1">Lecidea andersonii </tspan><tspan dx="2.8" font-weight="bold" fill="#000" stroke="#000" stroke-width="0.1"> Mac Robertson Land - III</tspan></text>
<line x1="97.8" y1="585.2" x2="104.7" y2="585.2" stroke="#444" stroke-width="1.35"/>
<text x="105.5" y="587.9" font-size="9.6" class="lb" textLength="252.6" lengthAdjust="spacingAndGlyphs"><tspan  fill="#3a3a3a" stroke="#3a3a3a" stroke-width="0.1">A0513002 </tspan><tspan font-style="italic" fill="#3a3a3a" stroke="#3a3a3a" stroke-width="0.1">Lecidea andersonii </tspan><tspan dx="2.8" font-weight="bold" fill="#000" stroke="#000" stroke-width="0.1"> Mac Robertson Land - III</tspan></text>
<line x1="97.8" y1="595.9" x2="104.7" y2="595.9" stroke="#444" stroke-width="1.35"/>
<text x="105.5" y="598.6" font-size="9.6" class="lb" textLength="216.5" lengthAdjust="spacingAndGlyphs"><tspan  fill="#3a3a3a" stroke="#3a3a3a" stroke-width="0.1">43006 </tspan><tspan font-style="italic" fill="#3a3a3a" stroke="#3a3a3a" stroke-width="0.1">Lecidea andersonii </tspan><tspan dx="2.8" font-weight="bold" fill="#000" stroke="#000" stroke-width="0.1"> Granite Harbour - III</tspan></text>
<line x1="97.8" y1="605.3" x2="104.7" y2="605.3" stroke="#444" stroke-width="1.35"/>
<text x="105.5" y="608.0" font-size="9.6" class="lb" textLength="226.9" lengthAdjust="spacingAndGlyphs"><tspan  fill="#3a3a3a" stroke="#3a3a3a" stroke-width="0.1">33648 </tspan><tspan font-style="italic" fill="#3a3a3a" stroke="#3a3a3a" stroke-width="0.1">Lecidea polypycnidophora </tspan><tspan dx="2.8" font-weight="bold" fill="#000" stroke="#000" stroke-width="0.1"> Taylor Valley - II</tspan></text>
<line x1="97.8" y1="616.2" x2="104.7" y2="616.2" stroke="#444" stroke-width="1.35"/>
<text x="105.5" y="618.9" font-size="9.6" class="lb" textLength="205.0" lengthAdjust="spacingAndGlyphs"><tspan  fill="#3a3a3a" stroke="#3a3a3a" stroke-width="0.1">33599 </tspan><tspan font-style="italic" fill="#3a3a3a" stroke="#3a3a3a" stroke-width="0.1">Lecidea cancriformis </tspan><tspan dx="2.8" font-weight="bold" fill="#000" stroke="#000" stroke-width="0.1"> Taylor Valley - II</tspan></text>
<line x1="97.8" y1="627.3" x2="104.7" y2="627.3" stroke="#444" stroke-width="1.35"/>
<text x="105.5" y="630.0" font-size="9.6" class="lb" textLength="201.9" lengthAdjust="spacingAndGlyphs"><tspan  fill="#3a3a3a" stroke="#3a3a3a" stroke-width="0.1">35769 </tspan><tspan font-style="italic" fill="#3a3a3a" stroke="#3a3a3a" stroke-width="0.1">Lecanora physciella </tspan><tspan dx="2.8" font-weight="bold" fill="#000" stroke="#000" stroke-width="0.1"> Cape Hallett - III</tspan></text>
<line x1="97.8" y1="635.9" x2="104.7" y2="635.9" stroke="#444" stroke-width="1.35"/>
<text x="105.5" y="638.6" font-size="9.6" class="lb" textLength="200.8" lengthAdjust="spacingAndGlyphs"><tspan  fill="#3a3a3a" stroke="#3a3a3a" stroke-width="0.1">43033 </tspan><tspan font-style="italic" fill="#3a3a3a" stroke="#3a3a3a" stroke-width="0.1">Lecidella siplei </tspan><tspan dx="2.8" font-weight="bold" fill="#000" stroke="#000" stroke-width="0.1"> Granite Harbour - III</tspan></text>
<line x1="97.8" y1="647.3" x2="104.7" y2="647.3" stroke="#444" stroke-width="1.35"/>
<text x="105.5" y="650.0" font-size="9.6" class="lb" textLength="175.0" lengthAdjust="spacingAndGlyphs"><tspan  fill="#3a3a3a" stroke="#3a3a3a" stroke-width="0.1">43004 </tspan><tspan font-style="italic" fill="#3a3a3a" stroke="#3a3a3a" stroke-width="0.1">Lecidella siplei </tspan><tspan dx="2.8" font-weight="bold" fill="#000" stroke="#000" stroke-width="0.1"> Sperm Bluff - II</tspan></text>
<line x1="97.8" y1="657.8" x2="104.7" y2="657.8" stroke="#444" stroke-width="1.35"/>
<text x="105.5" y="660.5" font-size="9.6" class="lb" textLength="182.7" lengthAdjust="spacingAndGlyphs"><tspan  fill="#3a3a3a" stroke="#3a3a3a" stroke-width="0.1">33706 </tspan><tspan font-style="italic" fill="#3a3a3a" stroke="#3a3a3a" stroke-width="0.1">Lecidella greenii </tspan><tspan dx="2.8" font-weight="bold" fill="#000" stroke="#000" stroke-width="0.1">Taylor Valley - II</tspan></text>
<line x1="97.8" y1="667.2" x2="104.7" y2="667.2" stroke="#444" stroke-width="1.35"/>
<text x="105.5" y="669.9" font-size="9.6" class="lb" textLength="216.5" lengthAdjust="spacingAndGlyphs"><tspan  fill="#3a3a3a" stroke="#3a3a3a" stroke-width="0.1">43026 </tspan><tspan font-style="italic" fill="#3a3a3a" stroke="#3a3a3a" stroke-width="0.1">Lecidea andersonii </tspan><tspan dx="2.8" font-weight="bold" fill="#000" stroke="#000" stroke-width="0.1"> Granite Harbour - III</tspan></text>
<line x1="97.8" y1="677.3" x2="104.7" y2="677.3" stroke="#444" stroke-width="1.35"/>
<text x="105.5" y="680.0" font-size="9.6" class="lb" textLength="230.0" lengthAdjust="spacingAndGlyphs"><tspan  fill="#3a3a3a" stroke="#3a3a3a" stroke-width="0.1">ADT25151 </tspan><tspan font-style="italic" fill="#3a3a3a" stroke="#3a3a3a" stroke-width="0.1">Lecidea cancriformis </tspan><tspan dx="2.8" font-weight="bold" fill="#000" stroke="#000" stroke-width="0.1"> Cape Hallett - III</tspan></text>
<line x1="97.8" y1="686.2" x2="104.7" y2="686.2" stroke="#444" stroke-width="1.35"/>
<text x="105.5" y="688.9" font-size="9.6" class="lb" textLength="256.5" lengthAdjust="spacingAndGlyphs"><tspan  fill="#3a3a3a" stroke="#3a3a3a" stroke-width="0.1">A0515901 </tspan><tspan font-style="italic" fill="#3a3a3a" stroke="#3a3a3a" stroke-width="0.1">Lecidea andersonii </tspan><tspan dx="2.8" font-weight="bold" fill="#000" stroke="#000" stroke-width="0.1"> Dronning Maud Land - III</tspan></text>
<line x1="97.8" y1="696.9" x2="104.7" y2="696.9" stroke="#444" stroke-width="1.35"/>
<text x="105.5" y="699.6" font-size="9.6" class="lb" textLength="216.5" lengthAdjust="spacingAndGlyphs"><tspan  fill="#3a3a3a" stroke="#3a3a3a" stroke-width="0.1">43022 </tspan><tspan font-style="italic" fill="#3a3a3a" stroke="#3a3a3a" stroke-width="0.1">Lecidea andersonii </tspan><tspan dx="2.8" font-weight="bold" fill="#000" stroke="#000" stroke-width="0.1"> Granite Harbour - III</tspan></text>
<line x1="97.8" y1="708.1" x2="104.7" y2="708.1" stroke="#444" stroke-width="1.35"/>
<text x="105.5" y="710.8" font-size="9.6" class="lb" textLength="219.6" lengthAdjust="spacingAndGlyphs"><tspan  fill="#3a3a3a" stroke="#3a3a3a" stroke-width="0.1">43016 </tspan><tspan font-style="italic" fill="#3a3a3a" stroke="#3a3a3a" stroke-width="0.1">Lecidea andersonii </tspan><tspan dx="2.8" font-weight="bold" fill="#000" stroke="#000" stroke-width="0.1"> Granite Harbour - III</tspan></text>
<line x1="97.8" y1="716.5" x2="104.7" y2="716.5" stroke="#444" stroke-width="1.35"/>
<text x="105.5" y="719.2" font-size="9.6" class="lb" textLength="206.5" lengthAdjust="spacingAndGlyphs"><tspan  fill="#3a3a3a" stroke="#3a3a3a" stroke-width="0.1">43015 </tspan><tspan font-style="italic" fill="#3a3a3a" stroke="#3a3a3a" stroke-width="0.1">Lecidella greenii </tspan><tspan dx="2.8" font-weight="bold" fill="#000" stroke="#000" stroke-width="0.1"> Granite Harbour - III</tspan></text>
<line x1="97.8" y1="728.1" x2="104.7" y2="728.1" stroke="#444" stroke-width="1.35"/>
<text x="105.5" y="730.8" font-size="9.6" class="lb" textLength="180.8" lengthAdjust="spacingAndGlyphs"><tspan  fill="#3a3a3a" stroke="#3a3a3a" stroke-width="0.1">43014 </tspan><tspan font-style="italic" fill="#3a3a3a" stroke="#3a3a3a" stroke-width="0.1">Lecidella greenii </tspan><tspan dx="2.8" font-weight="bold" fill="#000" stroke="#000" stroke-width="0.1"> Botany Bay - III</tspan></text>
<line x1="97.8" y1="736.5" x2="104.7" y2="736.5" stroke="#444" stroke-width="1.35"/>
<text x="105.5" y="739.2" font-size="9.6" class="lb" textLength="201.0" lengthAdjust="spacingAndGlyphs"><tspan  fill="#3a3a3a" stroke="#3a3a3a" stroke-width="0.1">35704 </tspan><tspan font-style="italic" fill="#3a3a3a" stroke="#3a3a3a" stroke-width="0.1">Lecanora physciella </tspan><tspan dx="2.8" font-weight="bold" fill="#000" stroke="#000" stroke-width="0.1"> Cape Hallett - III</tspan></text>
<line x1="97.8" y1="747.7" x2="104.7" y2="747.7" stroke="#444" stroke-width="1.35"/>
<text x="105.5" y="750.4" font-size="9.6" class="lb" textLength="225.0" lengthAdjust="spacingAndGlyphs"><tspan  fill="#3a3a3a" stroke="#3a3a3a" stroke-width="0.1">33641 </tspan><tspan font-style="italic" fill="#3a3a3a" stroke="#3a3a3a" stroke-width="0.1">Lecidea polypycnidophora </tspan><tspan dx="2.8" font-weight="bold" fill="#000" stroke="#000" stroke-width="0.1"> Taylor Valley - II</tspan></text>
<line x1="97.8" y1="758.4" x2="104.7" y2="758.4" stroke="#444" stroke-width="1.35"/>
<text x="105.5" y="761.1" font-size="9.6" class="lb" textLength="183.5" lengthAdjust="spacingAndGlyphs"><tspan  fill="#3a3a3a" stroke="#3a3a3a" stroke-width="0.1">33620 </tspan><tspan font-style="italic" fill="#3a3a3a" stroke="#3a3a3a" stroke-width="0.1">Lecidella greenii </tspan><tspan dx="2.8" font-weight="bold" fill="#000" stroke="#000" stroke-width="0.1"> Taylor Valley - II</tspan></text>
<line x1="97.8" y1="767.6" x2="104.7" y2="767.6" stroke="#444" stroke-width="1.35"/>
<text x="105.5" y="770.3" font-size="9.6" class="lb" textLength="184.6" lengthAdjust="spacingAndGlyphs"><tspan  fill="#3a3a3a" stroke="#3a3a3a" stroke-width="0.1">33612 </tspan><tspan font-style="italic" fill="#3a3a3a" stroke="#3a3a3a" stroke-width="0.1">Lecidella greenii </tspan><tspan dx="2.8" font-weight="bold" fill="#000" stroke="#000" stroke-width="0.1"> Taylor Valley - II</tspan></text>
<line x1="97.8" y1="778.7" x2="104.7" y2="778.7" stroke="#444" stroke-width="1.35"/>
<text x="105.5" y="781.4" font-size="9.6" class="lb" textLength="176.9" lengthAdjust="spacingAndGlyphs"><tspan  fill="#3a3a3a" stroke="#3a3a3a" stroke-width="0.1">32991 </tspan><tspan font-style="italic" fill="#3a3a3a" stroke="#3a3a3a" stroke-width="0.1">Lecidella siplei </tspan><tspan dx="2.8" font-weight="bold" fill="#000" stroke="#000" stroke-width="0.1"> Botany Bay - III</tspan></text>
<line x1="97.8" y1="788.3" x2="104.7" y2="788.3" stroke="#444" stroke-width="1.35"/>
<text x="105.5" y="791.0" font-size="9.6" class="lb" textLength="201.9" lengthAdjust="spacingAndGlyphs"><tspan  fill="#3a3a3a" stroke="#3a3a3a" stroke-width="0.1">43031 </tspan><tspan font-style="italic" fill="#3a3a3a" stroke="#3a3a3a" stroke-width="0.1">Carbonea vorticosa </tspan><tspan dx="2.8" font-weight="bold" fill="#000" stroke="#000" stroke-width="0.1"> Taylor Valley - II</tspan></text>
<line x1="97.8" y1="799.0" x2="107.6" y2="799.0" stroke="#444" stroke-width="1.35"/>
<text x="108.4" y="801.7" font-size="9.6" class="lb" textLength="195.2" lengthAdjust="spacingAndGlyphs"><tspan  fill="#3a3a3a" stroke="#3a3a3a" stroke-width="0.1">35895 </tspan><tspan font-style="italic" fill="#3a3a3a" stroke="#3a3a3a" stroke-width="0.1">Lecidella siplei </tspan><tspan dx="2.8" font-weight="bold" fill="#000" stroke="#000" stroke-width="0.1"> Discovery Bluff - III</tspan></text>
<line x1="97.8" y1="810.2" x2="118.3" y2="810.2" stroke="#444" stroke-width="1.35"/>
<text x="119.1" y="812.9" font-size="9.6" class="lb" textLength="162.2" lengthAdjust="spacingAndGlyphs"><tspan  fill="#3a3a3a" stroke="#3a3a3a" stroke-width="0.1">33449 </tspan><tspan font-style="italic" fill="#3a3a3a" stroke="#3a3a3a" stroke-width="0.1">Lecidella siplei </tspan><tspan dx="2.8" font-weight="bold" fill="#000" stroke="#000" stroke-width="0.1"> Mt Kyffin - II</tspan></text>
<line x1="97.8" y1="819.3" x2="104.7" y2="819.3" stroke="#444" stroke-width="1.35"/>
<text x="105.5" y="822.0" font-size="9.6" class="lb" textLength="198.1" lengthAdjust="spacingAndGlyphs"><tspan  fill="#3a3a3a" stroke="#3a3a3a" stroke-width="0.1">35770 </tspan><tspan font-style="italic" fill="#3a3a3a" stroke="#3a3a3a" stroke-width="0.1">Lecanora physciella </tspan><tspan dx="2.8" font-weight="bold" fill="#000" stroke="#000" stroke-width="0.1">Cape Hallett - III</tspan></text>
<line x1="98.2" y1="830.0" x2="145.2" y2="830.0" stroke="#444" stroke-width="1.35"/>
<text x="146.0" y="832.7" font-size="9.6" class="lb" textLength="205.6" lengthAdjust="spacingAndGlyphs"><tspan  fill="#3a3a3a" stroke="#3a3a3a" stroke-width="0.1">33712 </tspan><tspan font-style="italic" fill="#3a3a3a" stroke="#3a3a3a" stroke-width="0.1">Lecidea cancriformis </tspan><tspan dx="2.8" font-weight="bold" fill="#000" stroke="#000" stroke-width="0.1"> Taylor Valley - II</tspan></text>
<line x1="98.2" y1="841.0" x2="104.7" y2="841.0" stroke="#444" stroke-width="1.35"/>
<text x="105.5" y="843.7" font-size="9.6" class="lb" textLength="176.9" lengthAdjust="spacingAndGlyphs"><tspan  fill="#3a3a3a" stroke="#3a3a3a" stroke-width="0.1">42997 </tspan><tspan font-style="italic" fill="#3a3a3a" stroke="#3a3a3a" stroke-width="0.1">Lecidea andersonii </tspan><tspan dx="2.8" font-weight="bold" fill="#000" stroke="#000" stroke-width="0.1"> Mt Suess - II</tspan></text>
<line x1="98.2" y1="849.6" x2="104.7" y2="849.6" stroke="#444" stroke-width="1.35"/>
<text x="105.5" y="852.3" font-size="9.6" class="lb" textLength="184.6" lengthAdjust="spacingAndGlyphs"><tspan  fill="#3a3a3a" stroke="#3a3a3a" stroke-width="0.1">33630 </tspan><tspan font-style="italic" fill="#3a3a3a" stroke="#3a3a3a" stroke-width="0.1">Lecidella greenii </tspan><tspan dx="2.8" font-weight="bold" fill="#000" stroke="#000" stroke-width="0.1"> Taylor Valley - II</tspan></text>
<line x1="98.2" y1="860.8" x2="104.7" y2="860.8" stroke="#444" stroke-width="1.35"/>
<text x="105.5" y="863.5" font-size="9.6" class="lb" textLength="163.5" lengthAdjust="spacingAndGlyphs"><tspan  fill="#3a3a3a" stroke="#3a3a3a" stroke-width="0.1">33455 </tspan><tspan font-style="italic" fill="#3a3a3a" stroke="#3a3a3a" stroke-width="0.1">Lecidella siplei </tspan><tspan dx="2.8" font-weight="bold" fill="#000" stroke="#000" stroke-width="0.1"> Mt Kyffin - II</tspan></text>
<line x1="98.2" y1="869.8" x2="107.6" y2="869.8" stroke="#444" stroke-width="1.35"/>
<text x="108.4" y="872.5" font-size="9.6" class="lb" textLength="160.6" lengthAdjust="spacingAndGlyphs"><tspan  fill="#3a3a3a" stroke="#3a3a3a" stroke-width="0.1">33457 </tspan><tspan font-style="italic" fill="#3a3a3a" stroke="#3a3a3a" stroke-width="0.1">Lecidella siplei </tspan><tspan dx="2.8" font-weight="bold" fill="#000" stroke="#000" stroke-width="0.1">Mt Kyffin - II</tspan></text>
<line x1="98.2" y1="881.1" x2="106.8" y2="881.1" stroke="#444" stroke-width="1.35"/>
<text x="107.6" y="883.8" font-size="9.6" class="lb" textLength="254.4" lengthAdjust="spacingAndGlyphs"><tspan  fill="#3a3a3a" stroke="#3a3a3a" stroke-width="0.1">A0515501 </tspan><tspan font-style="italic" fill="#3a3a3a" stroke="#3a3a3a" stroke-width="0.1">Lecidea andersonii </tspan><tspan dx="2.8" font-weight="bold" fill="#000" stroke="#000" stroke-width="0.1"> Mac Robertson Land - III</tspan></text>
<line x1="90.5" y1="891.8" x2="107.6" y2="891.8" stroke="#444" stroke-width="1.35"/>
<text x="108.4" y="894.5" font-size="9.6" class="lb" textLength="164.4" lengthAdjust="spacingAndGlyphs"><tspan  fill="#3a3a3a" stroke="#3a3a3a" stroke-width="0.1">39655 </tspan><tspan font-style="italic" fill="#3a3a3a" stroke="#3a3a3a" stroke-width="0.1">Lecidella patavina </tspan><tspan dx="2.8" font-weight="bold" fill="#000" stroke="#000" stroke-width="0.1">Austria - V</tspan></text>
<line x1="90.5" y1="900.7" x2="97.2" y2="900.7" stroke="#444" stroke-width="1.35"/>
<text x="98.0" y="903.4" font-size="9.6" class="lb" textLength="205.6" lengthAdjust="spacingAndGlyphs"><tspan  fill="#3a3a3a" stroke="#3a3a3a" stroke-width="0.1">43029 </tspan><tspan font-style="italic" fill="#3a3a3a" stroke="#3a3a3a" stroke-width="0.1">Lecidella greenii </tspan><tspan dx="2.8" font-weight="bold" fill="#000" stroke="#000" stroke-width="0.1"> Granite Harbour - III</tspan></text>
<line x1="90.5" y1="911.8" x2="101.0" y2="911.8" stroke="#444" stroke-width="1.35"/>
<text x="101.8" y="914.5" font-size="9.6" class="lb" textLength="160.3" lengthAdjust="spacingAndGlyphs"><tspan  fill="#3a3a3a" stroke="#3a3a3a" stroke-width="0.1">AM159208 </tspan><tspan font-style="italic" fill="#3a3a3a" stroke="#3a3a3a" stroke-width="0.1">Trebouxia </tspan><tspan  fill="#3a3a3a" stroke="#3a3a3a" stroke-width="0.1"> sp. </tspan><tspan font-weight="bold" fill="#000" stroke="#000" stroke-width="0.1">USA - V</tspan></text>
<line x1="90.5" y1="920.3" x2="101.0" y2="920.3" stroke="#444" stroke-width="1.35"/>
<text x="101.8" y="923.0" font-size="9.6" class="lb" textLength="272.9" lengthAdjust="spacingAndGlyphs"><tspan  fill="#3a3a3a" stroke="#3a3a3a" stroke-width="0.1">A057501 </tspan><tspan font-style="italic" fill="#3a3a3a" stroke="#3a3a3a" stroke-width="0.1">Lecidea cancriformis </tspan><tspan dx="2.8" font-weight="bold" fill="#000" stroke="#000" stroke-width="0.1"> Princess Elisabeth Land - III</tspan></text>
<line x1="90.5" y1="931.2" x2="97.2" y2="931.2" stroke="#444" stroke-width="1.35"/>
<text x="98.0" y="933.9" font-size="9.6" class="lb" textLength="205.6" lengthAdjust="spacingAndGlyphs"><tspan  fill="#3a3a3a" stroke="#3a3a3a" stroke-width="0.1">43017 </tspan><tspan font-style="italic" fill="#3a3a3a" stroke="#3a3a3a" stroke-width="0.1">Lecidella greenii </tspan><tspan dx="2.8" font-weight="bold" fill="#000" stroke="#000" stroke-width="0.1"> Granite Harbour - III</tspan></text>
<line x1="90.5" y1="942.4" x2="97.2" y2="942.4" stroke="#444" stroke-width="1.35"/>
<text x="98.0" y="945.1" font-size="9.6" class="lb" textLength="180.6" lengthAdjust="spacingAndGlyphs"><tspan  fill="#3a3a3a" stroke="#3a3a3a" stroke-width="0.1">43013 </tspan><tspan font-style="italic" fill="#3a3a3a" stroke="#3a3a3a" stroke-width="0.1">Lecidella greenii </tspan><tspan dx="2.8" font-weight="bold" fill="#000" stroke="#000" stroke-width="0.1"> Botany Bay - III</tspan></text>
<line x1="84.4" y1="951.4" x2="101.0" y2="951.4" stroke="#444" stroke-width="1.35"/>
<text x="101.8" y="954.1" font-size="9.6" class="lb" textLength="183.3" lengthAdjust="spacingAndGlyphs"><tspan  fill="#3a3a3a" stroke="#3a3a3a" stroke-width="0.1">33700 </tspan><tspan font-style="italic" fill="#3a3a3a" stroke="#3a3a3a" stroke-width="0.1">Lecidella greenii </tspan><tspan dx="2.8" font-weight="bold" fill="#000" stroke="#000" stroke-width="0.1"> Taylor Valley - II</tspan></text>
<line x1="77.0" y1="962.4" x2="110.6" y2="962.4" stroke="#444" stroke-width="1.35"/>
<text x="111.4" y="965.1" font-size="9.6" class="lb" textLength="209.5" lengthAdjust="spacingAndGlyphs"><tspan  fill="#3a3a3a" stroke="#3a3a3a" stroke-width="0.1">43032 </tspan><tspan font-style="italic" fill="#3a3a3a" stroke="#3a3a3a" stroke-width="0.1">Rhizoplaca macleanii </tspan><tspan dx="2.8" font-weight="bold" fill="#000" stroke="#000" stroke-width="0.1"> Taylor Valley - II</tspan></text>
<line x1="164.9" y1="971.0" x2="210.5" y2="971.0" stroke="#444" stroke-width="1.35"/>
<text x="211.3" y="973.7" font-size="9.6" class="lb" textLength="153.0" lengthAdjust="spacingAndGlyphs"><tspan  fill="#3a3a3a" stroke="#3a3a3a" stroke-width="0.1">DQ166609 </tspan><tspan font-style="italic" fill="#3a3a3a" stroke="#3a3a3a" stroke-width="0.1">Trebouxia </tspan><tspan  fill="#3a3a3a" stroke="#3a3a3a" stroke-width="0.1"> sp. </tspan><tspan font-weight="bold" fill="#000" stroke="#000" stroke-width="0.1">Greece</tspan></text>
<line x1="164.9" y1="982.0" x2="173.3" y2="982.0" stroke="#444" stroke-width="1.35"/>
<text x="174.1" y="984.7" font-size="9.6" class="lb" textLength="203.2" lengthAdjust="spacingAndGlyphs"><tspan  fill="#3a3a3a" stroke="#3a3a3a" stroke-width="0.1">DQ166589 </tspan><tspan font-style="italic" fill="#3a3a3a" stroke="#3a3a3a" stroke-width="0.1">Trebouxia </tspan><tspan  fill="#3a3a3a" stroke="#3a3a3a" stroke-width="0.1"> sp. Hansen </tspan><tspan font-weight="bold" fill="#000" stroke="#000" stroke-width="0.1">Denmark</tspan></text>
<line x1="151.4" y1="992.6" x2="175.1" y2="992.6" stroke="#444" stroke-width="1.35"/>
<text x="175.9" y="995.3" font-size="9.6" class="lb" textLength="171.1" lengthAdjust="spacingAndGlyphs"><tspan  fill="#3a3a3a" stroke="#3a3a3a" stroke-width="0.1">35502 </tspan><tspan font-style="italic" fill="#3a3a3a" stroke="#3a3a3a" stroke-width="0.1">Carbonea vorticosa </tspan><tspan dx="2.8" font-weight="bold" fill="#000" stroke="#000" stroke-width="0.1"> Austria - V</tspan></text>
<line x1="151.4" y1="1002.1" x2="167.6" y2="1002.1" stroke="#444" stroke-width="1.35"/>
<text x="168.4" y="1004.8" font-size="9.6" class="lb" textLength="161.6" lengthAdjust="spacingAndGlyphs"><tspan  fill="#3a3a3a" stroke="#3a3a3a" stroke-width="0.1">DQ166611 </tspan><tspan font-style="italic" fill="#3a3a3a" stroke="#3a3a3a" stroke-width="0.1">Trebouxia </tspan><tspan  fill="#3a3a3a" stroke="#3a3a3a" stroke-width="0.1">sp. Lumbsch9</tspan></text>
<line x1="151.4" y1="1012.9" x2="158.3" y2="1012.9" stroke="#444" stroke-width="1.35"/>
<text x="159.1" y="1015.6" font-size="9.6" class="lb" textLength="257.6" lengthAdjust="spacingAndGlyphs"><tspan  fill="#3a3a3a" stroke="#3a3a3a" stroke-width="0.1">RSRL </tspan><tspan font-style="italic" fill="#3a3a3a" stroke="#3a3a3a" stroke-width="0.1">Lecidea cancriformis </tspan><tspan dx="2.8" font-weight="bold" fill="#000" stroke="#000" stroke-width="0.1">Ingrid Cristensen Coast - III</tspan></text>
<line x1="151.4" y1="1022.1" x2="158.3" y2="1022.1" stroke="#444" stroke-width="1.35"/>
<text x="159.1" y="1024.8" font-size="9.6" class="lb" textLength="249.1" lengthAdjust="spacingAndGlyphs"><tspan  fill="#3a3a3a" stroke="#3a3a3a" stroke-width="0.1">RSN21 </tspan><tspan font-style="italic" fill="#3a3a3a" stroke="#3a3a3a" stroke-width="0.1">Lecidea cancriformis </tspan><tspan dx="2.8" font-weight="bold" fill="#000" stroke="#000" stroke-width="0.1"> Mac Robertson Land - III</tspan></text>
<line x1="151.4" y1="1032.9" x2="158.3" y2="1032.9" stroke="#444" stroke-width="1.35"/>
<text x="159.1" y="1035.6" font-size="9.6" class="lb" textLength="240.7" lengthAdjust="spacingAndGlyphs"><tspan  fill="#3a3a3a" stroke="#3a3a3a" stroke-width="0.1">RS19162 </tspan><tspan font-style="italic" fill="#3a3a3a" stroke="#3a3a3a" stroke-width="0.1">Lecidea cancriformis </tspan><tspan dx="2.8" font-weight="bold" fill="#000" stroke="#000" stroke-width="0.1"> Granite Harbour - III</tspan></text>
<line x1="151.4" y1="1044.0" x2="158.3" y2="1044.0" stroke="#444" stroke-width="1.35"/>
<text x="159.1" y="1046.7" font-size="9.6" class="lb" textLength="218.4" lengthAdjust="spacingAndGlyphs"><tspan  fill="#3a3a3a" stroke="#3a3a3a" stroke-width="0.1">RS18317 </tspan><tspan font-style="italic" fill="#3a3a3a" stroke="#3a3a3a" stroke-width="0.1">Lecidea cancriformis </tspan><tspan dx="2.8" font-weight="bold" fill="#000" stroke="#000" stroke-width="0.1"> Wilkes Land - III</tspan></text>
<line x1="151.4" y1="1052.4" x2="158.3" y2="1052.4" stroke="#444" stroke-width="1.35"/>
<text x="159.1" y="1055.1" font-size="9.6" class="lb" textLength="159.5" lengthAdjust="spacingAndGlyphs"><tspan  fill="#3a3a3a" stroke="#3a3a3a" stroke-width="0.1">MAFS1 </tspan><tspan font-style="italic" fill="#3a3a3a" stroke="#3a3a3a" stroke-width="0.1">Lecidea </tspan><tspan  fill="#3a3a3a" stroke="#3a3a3a" stroke-width="0.1">sp. </tspan><tspan font-weight="bold" fill="#000" stroke="#000" stroke-width="0.1"> Mt Kyffin - II</tspan></text>
<line x1="151.4" y1="1063.5" x2="158.3" y2="1063.5" stroke="#444" stroke-width="1.35"/>
<text x="159.1" y="1066.2" font-size="9.6" class="lb" textLength="221.8" lengthAdjust="spacingAndGlyphs"><tspan  fill="#3a3a3a" stroke="#3a3a3a" stroke-width="0.1">ADT5902 </tspan><tspan font-style="italic" fill="#3a3a3a" stroke="#3a3a3a" stroke-width="0.1">Lecidea cancriformis </tspan><tspan dx="2.8" font-weight="bold" fill="#000" stroke="#000" stroke-width="0.1"> Wilkes Land - III</tspan></text>
<line x1="151.4" y1="1074.1" x2="158.3" y2="1074.1" stroke="#444" stroke-width="1.35"/>
<text x="159.1" y="1076.8" font-size="9.6" class="lb" textLength="220.9" lengthAdjust="spacingAndGlyphs"><tspan  fill="#3a3a3a" stroke="#3a3a3a" stroke-width="0.1">ADT26423 </tspan><tspan font-style="italic" fill="#3a3a3a" stroke="#3a3a3a" stroke-width="0.1">Lecidea andersonii </tspan><tspan dx="2.8" font-weight="bold" fill="#000" stroke="#000" stroke-width="0.1"> Wilkes Land - III</tspan></text>
<line x1="151.4" y1="1083.3" x2="158.3" y2="1083.3" stroke="#444" stroke-width="1.35"/>
<text x="159.1" y="1086.0" font-size="9.6" class="lb" textLength="228.1" lengthAdjust="spacingAndGlyphs"><tspan  fill="#3a3a3a" stroke="#3a3a3a" stroke-width="0.1">ADT24118 </tspan><tspan font-style="italic" fill="#3a3a3a" stroke="#3a3a3a" stroke-width="0.1">Lecidea cancriformis </tspan><tspan dx="2.8" font-weight="bold" fill="#000" stroke="#000" stroke-width="0.1"> Wilkes Land - III</tspan></text>
<line x1="151.4" y1="1094.5" x2="158.3" y2="1094.5" stroke="#444" stroke-width="1.35"/>
<text x="159.1" y="1097.2" font-size="9.6" class="lb" textLength="220.9" lengthAdjust="spacingAndGlyphs"><tspan  fill="#3a3a3a" stroke="#3a3a3a" stroke-width="0.1">ADT18027 </tspan><tspan font-style="italic" fill="#3a3a3a" stroke="#3a3a3a" stroke-width="0.1">Lecidea andersonii </tspan><tspan dx="2.8" font-weight="bold" fill="#000" stroke="#000" stroke-width="0.1"> Wilkes Land - III</tspan></text>
<line x1="151.4" y1="1103.6" x2="158.3" y2="1103.6" stroke="#444" stroke-width="1.35"/>
<text x="159.1" y="1106.3" font-size="9.6" class="lb" textLength="220.9" lengthAdjust="spacingAndGlyphs"><tspan  fill="#3a3a3a" stroke="#3a3a3a" stroke-width="0.1">ADT17087 </tspan><tspan font-style="italic" fill="#3a3a3a" stroke="#3a3a3a" stroke-width="0.1">Lecidea andersonii </tspan><tspan dx="2.8" font-weight="bold" fill="#000" stroke="#000" stroke-width="0.1"> Wilkes Land - III</tspan></text>
<line x1="151.4" y1="1114.5" x2="158.3" y2="1114.5" stroke="#444" stroke-width="1.35"/>
<text x="159.1" y="1117.2" font-size="9.6" class="lb" textLength="250.0" lengthAdjust="spacingAndGlyphs"><tspan  fill="#3a3a3a" stroke="#3a3a3a" stroke-width="0.1">A060330 </tspan><tspan font-style="italic" fill="#3a3a3a" stroke="#3a3a3a" stroke-width="0.1">Lecidea atrobrunnea </tspan><tspan dx="2.8" font-weight="bold" fill="#000" stroke="#000" stroke-width="0.1"> Antarctic Peninsula - III</tspan></text>
<line x1="151.4" y1="1125.1" x2="158.3" y2="1125.1" stroke="#444" stroke-width="1.35"/>
<text x="159.1" y="1127.8" font-size="9.6" class="lb" textLength="257.6" lengthAdjust="spacingAndGlyphs"><tspan  fill="#3a3a3a" stroke="#3a3a3a" stroke-width="0.1">A0515601 </tspan><tspan font-style="italic" fill="#3a3a3a" stroke="#3a3a3a" stroke-width="0.1">Lecidea andersonii </tspan><tspan dx="2.8" font-weight="bold" fill="#000" stroke="#000" stroke-width="0.1"> Dronning Maud Land - III</tspan></text>
<line x1="151.4" y1="1133.8" x2="158.3" y2="1133.8" stroke="#444" stroke-width="1.35"/>
<text x="159.1" y="1136.5" font-size="9.6" class="lb" textLength="190.2" lengthAdjust="spacingAndGlyphs"><tspan  fill="#3a3a3a" stroke="#3a3a3a" stroke-width="0.1">44637 Unknown URm4 </tspan><tspan font-weight="bold" fill="#000" stroke="#000" stroke-width="0.1">Diamond Hills - I</tspan></text>
<line x1="151.4" y1="1145.3" x2="158.3" y2="1145.3" stroke="#444" stroke-width="1.35"/>
<text x="159.1" y="1148.0" font-size="9.6" class="lb" textLength="191.1" lengthAdjust="spacingAndGlyphs"><tspan  fill="#3a3a3a" stroke="#3a3a3a" stroke-width="0.1">44631 Unknown URm3 </tspan><tspan font-weight="bold" fill="#000" stroke="#000" stroke-width="0.1">Diamond Hills - I</tspan></text>
<line x1="151.4" y1="1154.2" x2="158.3" y2="1154.2" stroke="#444" stroke-width="1.35"/>
<text x="159.1" y="1156.9" font-size="9.6" class="lb" textLength="181.0" lengthAdjust="spacingAndGlyphs"><tspan  fill="#3a3a3a" stroke="#3a3a3a" stroke-width="0.1">43429 </tspan><tspan font-style="italic" fill="#3a3a3a" stroke="#3a3a3a" stroke-width="0.1">Carbonea vorticosa </tspan><tspan dx="2.8" font-weight="bold" fill="#000" stroke="#000" stroke-width="0.1"> Svalbard - VI</tspan></text>
<line x1="151.4" y1="1165.1" x2="158.3" y2="1165.1" stroke="#444" stroke-width="1.35"/>
<text x="159.1" y="1167.8" font-size="9.6" class="lb" textLength="205.0" lengthAdjust="spacingAndGlyphs"><tspan  fill="#3a3a3a" stroke="#3a3a3a" stroke-width="0.1">43030 </tspan><tspan font-style="italic" fill="#3a3a3a" stroke="#3a3a3a" stroke-width="0.1">Lecidea </tspan><tspan  fill="#3a3a3a" stroke="#3a3a3a" stroke-width="0.1">sp. </tspan><tspan font-weight="bold" fill="#000" stroke="#000" stroke-width="0.1">Battleship Promontory - I</tspan></text>
<line x1="151.4" y1="1176.2" x2="158.3" y2="1176.2" stroke="#444" stroke-width="1.35"/>
<text x="159.1" y="1178.9" font-size="9.6" class="lb" textLength="164.1" lengthAdjust="spacingAndGlyphs"><tspan  fill="#3a3a3a" stroke="#3a3a3a" stroke-width="0.1">40136 </tspan><tspan font-style="italic" fill="#3a3a3a" stroke="#3a3a3a" stroke-width="0.1">Lecidea fuscoatra </tspan><tspan dx="2.8" font-weight="bold" fill="#000" stroke="#000" stroke-width="0.1"> Austria - V</tspan></text>
<line x1="151.4" y1="1185.3" x2="158.3" y2="1185.3" stroke="#444" stroke-width="1.35"/>
<text x="159.1" y="1188.0" font-size="9.6" class="lb" textLength="200.7" lengthAdjust="spacingAndGlyphs"><tspan  fill="#3a3a3a" stroke="#3a3a3a" stroke-width="0.1">33704 </tspan><tspan font-style="italic" fill="#3a3a3a" stroke="#3a3a3a" stroke-width="0.1">Lecidea </tspan><tspan  fill="#3a3a3a" stroke="#3a3a3a" stroke-width="0.1"> sp. UCR1 </tspan><tspan font-weight="bold" fill="#000" stroke="#000" stroke-width="0.1">Taylor Valley - II</tspan></text>
<line x1="151.4" y1="1195.8" x2="158.3" y2="1195.8" stroke="#444" stroke-width="1.35"/>
<text x="159.1" y="1198.5" font-size="9.6" class="lb" textLength="195.3" lengthAdjust="spacingAndGlyphs"><tspan  fill="#3a3a3a" stroke="#3a3a3a" stroke-width="0.1">33647 </tspan><tspan font-style="italic" fill="#3a3a3a" stroke="#3a3a3a" stroke-width="0.1">Lecidea andersonii </tspan><tspan dx="2.8" font-weight="bold" fill="#000" stroke="#000" stroke-width="0.1">Taylor Valley - II</tspan></text>
<line x1="151.4" y1="1204.7" x2="158.3" y2="1204.7" stroke="#444" stroke-width="1.35"/>
<text x="159.1" y="1207.4" font-size="9.6" class="lb" textLength="200.7" lengthAdjust="spacingAndGlyphs"><tspan  fill="#3a3a3a" stroke="#3a3a3a" stroke-width="0.1">33619 </tspan><tspan font-style="italic" fill="#3a3a3a" stroke="#3a3a3a" stroke-width="0.1">Lecidea </tspan><tspan  fill="#3a3a3a" stroke="#3a3a3a" stroke-width="0.1"> sp. UCR1 </tspan><tspan font-weight="bold" fill="#000" stroke="#000" stroke-width="0.1">Taylor Valley - II</tspan></text>
<line x1="151.4" y1="1215.7" x2="158.3" y2="1215.7" stroke="#444" stroke-width="1.35"/>
<text x="159.1" y="1218.4" font-size="9.6" class="lb" textLength="193.2" lengthAdjust="spacingAndGlyphs"><tspan  fill="#3a3a3a" stroke="#3a3a3a" stroke-width="0.1">44629 Unknown URm3 </tspan><tspan font-weight="bold" fill="#000" stroke="#000" stroke-width="0.1"> Diamond Hills - I</tspan></text>
<line x1="151.4" y1="1226.1" x2="157.0" y2="1226.1" stroke="#444" stroke-width="1.35"/>
<text x="157.8" y="1228.8" font-size="9.6" class="lb" textLength="211.7" lengthAdjust="spacingAndGlyphs"><tspan  fill="#3a3a3a" stroke="#3a3a3a" stroke-width="0.1">42745 </tspan><tspan font-style="italic" fill="#3a3a3a" stroke="#3a3a3a" stroke-width="0.1">Lecidea lapicida </tspan><tspan  fill="#3a3a3a" stroke="#3a3a3a" stroke-width="0.1">var. </tspan><tspan font-style="italic" fill="#3a3a3a" stroke="#3a3a3a" stroke-width="0.1">lapicida </tspan><tspan dx="2.8" font-weight="bold" fill="#000" stroke="#000" stroke-width="0.1">Austria - V</tspan></text>
<line x1="151.4" y1="1235.8" x2="157.0" y2="1235.8" stroke="#444" stroke-width="1.35"/>
<text x="157.8" y="1238.5" font-size="9.6" class="lb" textLength="158.7" lengthAdjust="spacingAndGlyphs"><tspan  fill="#3a3a3a" stroke="#3a3a3a" stroke-width="0.1">MAFS3 </tspan><tspan font-style="italic" fill="#3a3a3a" stroke="#3a3a3a" stroke-width="0.1">Lecidea </tspan><tspan  fill="#3a3a3a" stroke="#3a3a3a" stroke-width="0.1"> sp. </tspan><tspan font-weight="bold" fill="#000" stroke="#000" stroke-width="0.1">Mt Kyffin - II</tspan></text>
<line x1="151.4" y1="1246.5" x2="157.0" y2="1246.5" stroke="#444" stroke-width="1.35"/>
<text x="157.8" y="1249.2" font-size="9.6" class="lb" textLength="219.6" lengthAdjust="spacingAndGlyphs"><tspan  fill="#3a3a3a" stroke="#3a3a3a" stroke-width="0.1">ADT13352 </tspan><tspan font-style="italic" fill="#3a3a3a" stroke="#3a3a3a" stroke-width="0.1">Lecidea andersonii </tspan><tspan dx="2.8" font-weight="bold" fill="#000" stroke="#000" stroke-width="0.1"> Wilkes Land - III</tspan></text>
<line x1="151.4" y1="1257.8" x2="160.2" y2="1257.8" stroke="#444" stroke-width="1.35"/>
<text x="161.0" y="1260.5" font-size="9.6" class="lb" textLength="250.7" lengthAdjust="spacingAndGlyphs"><tspan  fill="#3a3a3a" stroke="#3a3a3a" stroke-width="0.1">A060414 </tspan><tspan font-style="italic" fill="#3a3a3a" stroke="#3a3a3a" stroke-width="0.1">Lecidea atrobrunnea </tspan><tspan dx="2.8" font-weight="bold" fill="#000" stroke="#000" stroke-width="0.1">Antarctic Peninsula - III</tspan></text>
<line x1="151.4" y1="1266.5" x2="157.0" y2="1266.5" stroke="#444" stroke-width="1.35"/>
<text x="157.8" y="1269.2" font-size="9.6" class="lb" textLength="149.6" lengthAdjust="spacingAndGlyphs"><tspan  fill="#3a3a3a" stroke="#3a3a3a" stroke-width="0.1">43427 </tspan><tspan font-style="italic" fill="#3a3a3a" stroke="#3a3a3a" stroke-width="0.1">Lecidea </tspan><tspan  fill="#3a3a3a" stroke="#3a3a3a" stroke-width="0.1"> sp. </tspan><tspan font-weight="bold" fill="#000" stroke="#000" stroke-width="0.1">Svalbard - VI</tspan></text>
<line x1="151.4" y1="1277.7" x2="163.0" y2="1277.7" stroke="#444" stroke-width="1.35"/>
<text x="163.8" y="1280.4" font-size="9.6" class="lb" textLength="196.2" lengthAdjust="spacingAndGlyphs"><tspan  fill="#3a3a3a" stroke="#3a3a3a" stroke-width="0.1">MAFS2 </tspan><tspan font-style="italic" fill="#3a3a3a" stroke="#3a3a3a" stroke-width="0.1">Lecidea cancriformis </tspan><tspan dx="2.8" font-weight="bold" fill="#000" stroke="#000" stroke-width="0.1">Mt Kyffin - II</tspan></text>
<line x1="151.4" y1="1286.9" x2="157.0" y2="1286.9" stroke="#444" stroke-width="1.35"/>
<text x="157.8" y="1289.6" font-size="9.6" class="lb" textLength="218.2" lengthAdjust="spacingAndGlyphs"><tspan  fill="#3a3a3a" stroke="#3a3a3a" stroke-width="0.1">ADT18513 </tspan><tspan font-style="italic" fill="#3a3a3a" stroke="#3a3a3a" stroke-width="0.1">Lecidea andersonii </tspan><tspan dx="2.8" font-weight="bold" fill="#000" stroke="#000" stroke-width="0.1"> Wilkes Land - III</tspan></text>
<line x1="151.4" y1="1297.6" x2="172.1" y2="1297.6" stroke="#444" stroke-width="1.35"/>
<text x="172.9" y="1300.3" font-size="9.6" class="lb" textLength="193.1" lengthAdjust="spacingAndGlyphs"><tspan  fill="#3a3a3a" stroke="#3a3a3a" stroke-width="0.1">44641 </tspan><tspan font-style="italic" fill="#3a3a3a" stroke="#3a3a3a" stroke-width="0.1">Carbonea vorticosa </tspan><tspan dx="2.8" font-weight="bold" fill="#000" stroke="#000" stroke-width="0.1">Diamond Hills - I</tspan></text>
<line x1="135.0" y1="1308.1" x2="209.6" y2="1308.1" stroke="#444" stroke-width="1.35"/>
<text x="210.4" y="1310.8" font-size="9.6" class="lb" textLength="207.3" lengthAdjust="spacingAndGlyphs"><tspan  fill="#3a3a3a" stroke="#3a3a3a" stroke-width="0.1">44626 </tspan><tspan font-style="italic" fill="#3a3a3a" stroke="#3a3a3a" stroke-width="0.1">Carbonea </tspan><tspan  fill="#3a3a3a" stroke="#3a3a3a" stroke-width="0.1"> sp. URm1 </tspan><tspan font-weight="bold" fill="#000" stroke="#000" stroke-width="0.1">Diamond Hills - I</tspan></text>
<line x1="83.1" y1="1318.1" x2="164.8" y2="1318.1" stroke="#444" stroke-width="1.35"/>
<text x="165.6" y="1320.8" font-size="9.6" class="lb" textLength="202.7" lengthAdjust="spacingAndGlyphs"><tspan  fill="#3a3a3a" stroke="#3a3a3a" stroke-width="0.1">UR48 </tspan><tspan font-style="italic" fill="#3a3a3a" stroke="#3a3a3a" stroke-width="0.1">Lecidella patavina, T. </tspan><tspan  fill="#3a3a3a" stroke="#3a3a3a" stroke-width="0.1">sp. URa5 </tspan><tspan font-weight="bold" fill="#000" stroke="#000" stroke-width="0.1">Austria</tspan></text>
<line x1="72.7" y1="1328.9" x2="195.9" y2="1328.9" stroke="#444" stroke-width="1.35"/>
<text x="196.7" y="1331.6" font-size="9.6" class="lb" textLength="171.6" lengthAdjust="spacingAndGlyphs"><tspan  fill="#3a3a3a" stroke="#3a3a3a" stroke-width="0.1">AF242470 </tspan><tspan font-style="italic" fill="#3a3a3a" stroke="#3a3a3a" stroke-width="0.1">Trebouxia showmanii </tspan><tspan dx="2.8" font-weight="bold" fill="#000" stroke="#000" stroke-width="0.1"> USA</tspan></text>
<line x1="142.5" y1="1336.8" x2="149.2" y2="1336.8" stroke="#444" stroke-width="1.35"/>
<text x="150.0" y="1339.5" font-size="9.6" class="lb" textLength="148.7" lengthAdjust="spacingAndGlyphs"><tspan  fill="#3a3a3a" stroke="#3a3a3a" stroke-width="0.1">AJ249565 </tspan><tspan font-style="italic" fill="#3a3a3a" stroke="#3a3a3a" stroke-width="0.1">Trebouxia asymmetrica</tspan></text>
<line x1="142.5" y1="1348.6" x2="158.4" y2="1348.6" stroke="#444" stroke-width="1.35"/>
<text x="159.2" y="1351.3" font-size="9.6" class="lb" textLength="190.8" lengthAdjust="spacingAndGlyphs"><tspan  fill="#3a3a3a" stroke="#3a3a3a" stroke-width="0.1">AF344177 </tspan><tspan font-style="italic" fill="#3a3a3a" stroke="#3a3a3a" stroke-width="0.1">Trebouxia asymmetrica </tspan><tspan dx="2.8" font-weight="bold" fill="#000" stroke="#000" stroke-width="0.1">France</tspan></text>
<line x1="110.9" y1="1358.6" x2="121.8" y2="1358.6" stroke="#444" stroke-width="1.35"/>
<text x="122.6" y="1361.3" font-size="9.6" class="lb" textLength="168.8" lengthAdjust="spacingAndGlyphs"><tspan  fill="#3a3a3a" stroke="#3a3a3a" stroke-width="0.1">39665 </tspan><tspan font-style="italic" fill="#3a3a3a" stroke="#3a3a3a" stroke-width="0.1">Lecidella stigmatea </tspan><tspan dx="2.8" font-weight="bold" fill="#000" stroke="#000" stroke-width="0.1">Austria - V</tspan></text>
<line x1="110.9" y1="1368.5" x2="128.2" y2="1368.5" stroke="#444" stroke-width="1.35"/>
<text x="129.0" y="1371.2" font-size="9.6" class="lb" textLength="192.1" lengthAdjust="spacingAndGlyphs"><tspan  fill="#3a3a3a" stroke="#3a3a3a" stroke-width="0.1">43003 </tspan><tspan font-style="italic" fill="#3a3a3a" stroke="#3a3a3a" stroke-width="0.1">Lecidea andersonii </tspan><tspan dx="2.8" font-weight="bold" fill="#000" stroke="#000" stroke-width="0.1"> Sperm Bluff - II</tspan></text>
<line x1="111.4" y1="1379.2" x2="121.8" y2="1379.2" stroke="#444" stroke-width="1.35"/>
<text x="122.6" y="1381.9" font-size="9.6" class="lb" textLength="211.3" lengthAdjust="spacingAndGlyphs"><tspan  fill="#3a3a3a" stroke="#3a3a3a" stroke-width="0.1">38608 </tspan><tspan font-style="italic" fill="#3a3a3a" stroke="#3a3a3a" stroke-width="0.1">Lecidella stigmatea, T. </tspan><tspan  fill="#3a3a3a" stroke="#3a3a3a" stroke-width="0.1">sp. URa6 </tspan><tspan font-weight="bold" fill="#000" stroke="#000" stroke-width="0.1"> Austria</tspan></text>
<line x1="111.4" y1="1388.9" x2="117.2" y2="1388.9" stroke="#444" stroke-width="1.35"/>
<text x="118.0" y="1391.6" font-size="9.6" class="lb" textLength="219.6" lengthAdjust="spacingAndGlyphs"><tspan  fill="#3a3a3a" stroke="#3a3a3a" stroke-width="0.1">AJ293782 </tspan><tspan font-style="italic" fill="#3a3a3a" stroke="#3a3a3a" stroke-width="0.1">Trebouxia </tspan><tspan  fill="#3a3a3a" stroke="#3a3a3a" stroke-width="0.1"> sp. Trinkaus439 </tspan><tspan font-weight="bold" fill="#000" stroke="#000" stroke-width="0.1">Germany</tspan></text>
<line x1="104.1" y1="1399.7" x2="111.7" y2="1399.7" stroke="#444" stroke-width="1.35"/>
<text x="112.5" y="1402.4" font-size="9.6" class="lb" textLength="189.4" lengthAdjust="spacingAndGlyphs"><tspan  fill="#3a3a3a" stroke="#3a3a3a" stroke-width="0.1">DQ133486 </tspan><tspan font-style="italic" fill="#3a3a3a" stroke="#3a3a3a" stroke-width="0.1">Trebouxia </tspan><tspan  fill="#3a3a3a" stroke="#3a3a3a" stroke-width="0.1"> sp. Guzow </tspan><tspan font-weight="bold" fill="#000" stroke="#000" stroke-width="0.1">Austria</tspan></text>
<line x1="69.8" y1="1409.8" x2="80.6" y2="1409.8" stroke="#444" stroke-width="1.35"/>
<text x="81.4" y="1412.5" font-size="9.6" class="lb" textLength="199.9" lengthAdjust="spacingAndGlyphs"><tspan  fill="#3a3a3a" stroke="#3a3a3a" stroke-width="0.1">AJ969592 </tspan><tspan font-style="italic" fill="#3a3a3a" stroke="#3a3a3a" stroke-width="0.1">Trebouxia decolorans </tspan><tspan dx="2.8" font-weight="bold" fill="#000" stroke="#000" stroke-width="0.1">Switzerland</tspan></text>
<line x1="69.8" y1="1419.1" x2="88.9" y2="1419.1" stroke="#444" stroke-width="1.35"/>
<text x="89.7" y="1421.8" font-size="9.6" class="lb" textLength="225.0" lengthAdjust="spacingAndGlyphs"><tspan  fill="#3a3a3a" stroke="#3a3a3a" stroke-width="0.1">AJ293770 </tspan><tspan font-style="italic" fill="#3a3a3a" stroke="#3a3a3a" stroke-width="0.1">Trebouxia </tspan><tspan  fill="#3a3a3a" stroke="#3a3a3a" stroke-width="0.1"> sp. Friedl10 1994 </tspan><tspan font-weight="bold" fill="#000" stroke="#000" stroke-width="0.1">Germany</tspan></text>
<line x1="29.4" y1="1430.4" x2="88.9" y2="1430.4" stroke="#444" stroke-width="1.35"/>
<text x="89.7" y="1433.1" font-size="9.6" class="lb" textLength="139.0" lengthAdjust="spacingAndGlyphs"><tspan  fill="#3a3a3a" stroke="#3a3a3a" stroke-width="0.1">AF453259 </tspan><tspan font-style="italic" fill="#3a3a3a" stroke="#3a3a3a" stroke-width="0.1">Trebouxia arboricola</tspan></text>
<line x1="3.0" y1="1440.6" x2="330.9" y2="1440.6" stroke="#444" stroke-width="1.35"/>
<text x="331.7" y="1443.3" font-size="9.6" class="lb" textLength="147.7" lengthAdjust="spacingAndGlyphs"><tspan  fill="#3a3a3a" stroke="#3a3a3a" stroke-width="0.1">43425 </tspan><tspan font-style="italic" fill="#3a3a3a" stroke="#3a3a3a" stroke-width="0.1">Trebouxia </tspan><tspan  fill="#3a3a3a" stroke="#3a3a3a" stroke-width="0.1"> URa7 </tspan><tspan font-weight="bold" fill="#000" stroke="#000" stroke-width="0.1">Svalbard</tspan></text>
<line x1="424.7" y1="4.1" x2="424.7" y2="68.6" stroke="#444" stroke-width="1.35"/>
<line x1="424.7" y1="75.9" x2="424.7" y2="87.6" stroke="#444" stroke-width="1.35"/>
<line x1="418.8" y1="34.1" x2="418.8" y2="98.6" stroke="#444" stroke-width="1.35"/>
<line x1="408.5" y1="65.1" x2="408.5" y2="200.4" stroke="#444" stroke-width="1.35"/>
<line x1="419.0" y1="131.1" x2="419.0" y2="169.6" stroke="#444" stroke-width="1.35"/>
<line x1="430.9" y1="106.5" x2="430.9" y2="160.4" stroke="#444" stroke-width="1.35"/>
<line x1="415.9" y1="177.2" x2="415.9" y2="190.3" stroke="#444" stroke-width="1.35"/>
<line x1="389.2" y1="130.5" x2="389.2" y2="220.2" stroke="#444" stroke-width="1.35"/>
<line x1="380.6" y1="172.8" x2="380.6" y2="231.0" stroke="#444" stroke-width="1.35"/>
<line x1="358.1" y1="199.7" x2="358.1" y2="241.6" stroke="#444" stroke-width="1.35"/>
<line x1="309.2" y1="219.3" x2="309.2" y2="289.1" stroke="#444" stroke-width="1.35"/>
<line x1="355.3" y1="252.7" x2="355.3" y2="321.5" stroke="#444" stroke-width="1.35"/>
<line x1="361.1" y1="247.5" x2="361.1" y2="261.6" stroke="#444" stroke-width="1.35"/>
<line x1="154.5" y1="251.7" x2="154.5" y2="478.6" stroke="#444" stroke-width="1.35"/>
<line x1="402.5" y1="459.6" x2="402.5" y2="495.9" stroke="#444" stroke-width="1.35"/>
<line x1="431.0" y1="442.2" x2="431.0" y2="480.8" stroke="#444" stroke-width="1.35"/>
<line x1="444.3" y1="472.2" x2="444.3" y2="484.9" stroke="#444" stroke-width="1.35"/>
<line x1="442.5" y1="424.7" x2="442.5" y2="464.9" stroke="#444" stroke-width="1.35"/>
<line x1="450.2" y1="398.4" x2="450.2" y2="453.9" stroke="#444" stroke-width="1.35"/>
<line x1="457.4" y1="367.7" x2="457.4" y2="434.5" stroke="#444" stroke-width="1.35"/>
<line x1="472.3" y1="334.3" x2="472.3" y2="404.2" stroke="#444" stroke-width="1.35"/>
<line x1="478.3" y1="328.8" x2="478.3" y2="343.4" stroke="#444" stroke-width="1.35"/>
<line x1="468.0" y1="422.9" x2="468.0" y2="444.8" stroke="#444" stroke-width="1.35"/>
<line x1="478.3" y1="414.8" x2="478.3" y2="432.4" stroke="#444" stroke-width="1.35"/>
<line x1="486.1" y1="411.3" x2="486.1" y2="423.4" stroke="#444" stroke-width="1.35"/>
<line x1="29.5" y1="363.1" x2="29.5" y2="1337.4" stroke="#444" stroke-width="1.35"/>
<line x1="4.4" y1="847.6" x2="4.4" y2="1441.6" stroke="#444" stroke-width="1.35"/>
<line x1="45.9" y1="916.3" x2="45.9" y2="978.3" stroke="#444" stroke-width="1.35"/>
<line x1="78.4" y1="874.8" x2="78.4" y2="963.4" stroke="#444" stroke-width="1.35"/>
<line x1="85.8" y1="801.4" x2="85.8" y2="952.4" stroke="#444" stroke-width="1.35"/>
<line x1="91.9" y1="664.5" x2="91.9" y2="943.4" stroke="#444" stroke-width="1.35"/>
<line x1="99.2" y1="518.2" x2="99.2" y2="820.3" stroke="#444" stroke-width="1.35"/>
<line x1="105.4" y1="512.8" x2="105.4" y2="526.9" stroke="#444" stroke-width="1.35"/>
<line x1="105.4" y1="532.7" x2="105.4" y2="546.7" stroke="#444" stroke-width="1.35"/>
<line x1="99.6" y1="827.8" x2="99.6" y2="882.1" stroke="#444" stroke-width="1.35"/>
<line x1="166.3" y1="968.6" x2="166.3" y2="983.0" stroke="#444" stroke-width="1.35"/>
<line x1="152.8" y1="990.8" x2="152.8" y2="1298.6" stroke="#444" stroke-width="1.35"/>
<line x1="136.4" y1="1143.5" x2="136.4" y2="1308.2" stroke="#444" stroke-width="1.35"/>
<line x1="84.5" y1="1225.3" x2="84.5" y2="1319.1" stroke="#444" stroke-width="1.35"/>
<line x1="74.1" y1="1269.7" x2="74.1" y2="1329.9" stroke="#444" stroke-width="1.35"/>
<line x1="56.3" y1="1297.7" x2="56.3" y2="1371.9" stroke="#444" stroke-width="1.35"/>
<line x1="69.2" y1="1350.9" x2="69.2" y2="1391.6" stroke="#444" stroke-width="1.35"/>
<line x1="87.4" y1="1340.0" x2="87.4" y2="1365.6" stroke="#444" stroke-width="1.35"/>
<line x1="143.9" y1="1334.7" x2="143.9" y2="1349.6" stroke="#444" stroke-width="1.35"/>
<line x1="112.3" y1="1357.0" x2="112.3" y2="1369.5" stroke="#444" stroke-width="1.35"/>
<line x1="105.5" y1="1383.3" x2="105.5" y2="1400.7" stroke="#444" stroke-width="1.35"/>
<line x1="112.8" y1="1377.5" x2="112.8" y2="1389.9" stroke="#444" stroke-width="1.35"/>
<line x1="30.8" y1="1412.0" x2="30.8" y2="1431.4" stroke="#444" stroke-width="1.35"/>
<line x1="71.2" y1="1408.1" x2="71.2" y2="1420.1" stroke="#444" stroke-width="1.35"/>
<line x1="417.5" y1="81.8" x2="426.0" y2="81.8" stroke="#444" stroke-width="1.35"/>
<line x1="417.5" y1="35.4" x2="426.0" y2="35.4" stroke="#444" stroke-width="1.35"/>
<line x1="407.2" y1="66.4" x2="420.1" y2="66.4" stroke="#444" stroke-width="1.35"/>
<line x1="407.2" y1="150.5" x2="420.3" y2="150.5" stroke="#444" stroke-width="1.35"/>
<line x1="407.2" y1="184.0" x2="417.2" y2="184.0" stroke="#444" stroke-width="1.35"/>
<line x1="429.7" y1="443.5" x2="443.8" y2="443.5" stroke="#444" stroke-width="1.35"/>
<line x1="401.2" y1="460.9" x2="432.3" y2="460.9" stroke="#444" stroke-width="1.35"/>
<line x1="441.2" y1="426.0" x2="451.5" y2="426.0" stroke="#444" stroke-width="1.35"/>
<line x1="448.9" y1="399.7" x2="458.7" y2="399.7" stroke="#444" stroke-width="1.35"/>
<line x1="456.1" y1="369.0" x2="473.6" y2="369.0" stroke="#444" stroke-width="1.35"/>
<line x1="28.2" y1="946.9" x2="47.2" y2="946.9" stroke="#444" stroke-width="1.35"/>
<line x1="77.1" y1="876.1" x2="87.1" y2="876.1" stroke="#444" stroke-width="1.35"/>
<line x1="84.5" y1="802.7" x2="93.2" y2="802.7" stroke="#444" stroke-width="1.35"/>
<line x1="90.6" y1="666.4" x2="100.5" y2="666.4" stroke="#444" stroke-width="1.35"/>
<line x1="90.6" y1="854.1" x2="100.9" y2="854.1" stroke="#444" stroke-width="1.35"/>
<line x1="97.9" y1="520.0" x2="106.7" y2="520.0" stroke="#444" stroke-width="1.35"/>
<line x1="97.9" y1="538.4" x2="106.7" y2="538.4" stroke="#444" stroke-width="1.35"/>
<line x1="135.1" y1="1145.0" x2="154.1" y2="1145.0" stroke="#444" stroke-width="1.35"/>
<line x1="72.8" y1="1271.0" x2="85.8" y2="1271.0" stroke="#444" stroke-width="1.35"/>
<line x1="55.0" y1="1299.0" x2="75.4" y2="1299.0" stroke="#444" stroke-width="1.35"/>
<line x1="55.0" y1="1370.6" x2="70.5" y2="1370.6" stroke="#444" stroke-width="1.35"/>
<rect x="387.3" y="130.0" width="22.9" height="3.6" fill="#111"/>
<rect x="417.5" y="130.6" width="15.4" height="3.6" fill="#111"/>
<rect x="377.4" y="172.3" width="13.8" height="3.6" fill="#111"/>
<rect x="357.0" y="199.2" width="25.0" height="3.6" fill="#111"/>
<rect x="307.3" y="218.8" width="53.2" height="3.6" fill="#111"/>
<rect x="307.3" y="286.0" width="49.3" height="3.6" fill="#111"/>
<rect x="154.0" y="251.8" width="156.9" height="3.6" fill="#111"/>
<rect x="352.0" y="252.2" width="10.7" height="3.6" fill="#111"/>
<rect x="28.0" y="362.6" width="128.3" height="3.6" fill="#111"/>
<rect x="152.4" y="475.5" width="252.2" height="3.6" fill="#111"/>
<rect x="429.7" y="477.7" width="17.1" height="3.6" fill="#111"/>
<rect x="455.4" y="431.1" width="15.1" height="3.6" fill="#111"/>
<rect x="470.3" y="333.8" width="9.2" height="3.6" fill="#111"/>
<rect x="465.5" y="422.4" width="15.0" height="3.6" fill="#111"/>
<rect x="477.5" y="414.1" width="11.1" height="3.6" fill="#111"/>
<rect x="2.4" y="847.1" width="29.4" height="3.6" fill="#111"/>
<rect x="44.3" y="915.8" width="37.5" height="3.6" fill="#111"/>
<rect x="44.1" y="974.9" width="124.7" height="3.6" fill="#111"/>
<rect x="82.3" y="1224.8" width="56.9" height="3.6" fill="#111"/>
<rect x="27.2" y="1334.3" width="31.3" height="3.6" fill="#111"/>
<rect x="67.2" y="1350.4" width="23.0" height="3.6" fill="#111"/>
<rect x="68.4" y="1388.5" width="38.9" height="3.6" fill="#111"/>
<rect x="85.2" y="1339.5" width="61.0" height="3.6" fill="#111"/>
<rect x="85.2" y="1362.5" width="29.1" height="3.6" fill="#111"/>
<rect x="102.7" y="1381.2" width="11.6" height="3.6" fill="#111"/>
<rect x="0.8" y="1420.1" width="32.6" height="3.6" fill="#111"/>
<rect x="28.0" y="1411.5" width="45.1" height="3.6" fill="#111"/>
<text x="65.3" y="361.1" font-size="9.6" textLength="24.1" lengthAdjust="spacingAndGlyphs"><tspan fill="#333">70/</tspan><tspan font-weight="bold" font-style="italic" fill="#111">75</tspan></text>
<text x="228.9" y="251.2" font-size="9.6" textLength="34.6" lengthAdjust="spacingAndGlyphs"><tspan fill="#333">100/</tspan><tspan font-weight="bold" font-style="italic" fill="#111">100</tspan></text>
<text x="252.8" y="472.2" font-size="9.6" textLength="34.6" lengthAdjust="spacingAndGlyphs"><tspan fill="#333">100/</tspan><tspan font-weight="bold" font-style="italic" fill="#111">100</tspan></text>
<text x="323.5" y="218.2" font-size="9.6" textLength="24.7" lengthAdjust="spacingAndGlyphs"><tspan fill="#333">99/</tspan><tspan font-weight="bold" font-style="italic" fill="#111">99</tspan></text>
<text x="314.0" y="285.2" font-size="9.6" textLength="33.6" lengthAdjust="spacingAndGlyphs"><tspan fill="#333">100/</tspan><tspan font-weight="bold" font-style="italic" fill="#111">100</tspan></text>
<text x="355.5" y="198.4" font-size="9.6" textLength="23.0" lengthAdjust="spacingAndGlyphs"><tspan fill="#333">79/</tspan><tspan font-weight="bold" font-style="italic" fill="#111">81</tspan></text>
<text x="379.0" y="129.5" font-size="9.6" textLength="24.8" lengthAdjust="spacingAndGlyphs"><tspan fill="#333">92/</tspan><tspan font-weight="bold" font-style="italic" fill="#111">89</tspan></text>
<text x="408.2" y="131.2" font-size="9.6" textLength="23.0" lengthAdjust="spacingAndGlyphs"><tspan fill="#333">78/</tspan><tspan font-weight="bold" font-style="italic" fill="#111">84</tspan></text>
<text x="444.3" y="420.1" font-size="9.6" textLength="23.2" lengthAdjust="spacingAndGlyphs"><tspan fill="#333">80/</tspan><tspan font-weight="bold" font-style="italic" fill="#111">79</tspan></text>
<text x="436.8" y="430.0" font-size="9.6" textLength="22.6" lengthAdjust="spacingAndGlyphs"><tspan fill="#333">74/</tspan><tspan font-weight="bold" font-style="italic" fill="#111">80</tspan></text>
<text x="56.0" y="914.0" font-size="9.6" textLength="10.0" lengthAdjust="spacingAndGlyphs"><tspan fill="#333">96</tspan></text>
<text x="69.0" y="974.5" font-size="9.6" textLength="33.7" lengthAdjust="spacingAndGlyphs"><tspan fill="#333">100/</tspan><tspan font-weight="bold" font-style="italic" fill="#111">100</tspan></text>
<text x="137.5" y="1144.3" font-size="9.6" textLength="10.7" lengthAdjust="spacingAndGlyphs"><tspan fill="#333">95</tspan></text>
<text x="90.6" y="1224.0" font-size="9.6" textLength="24.7" lengthAdjust="spacingAndGlyphs"><tspan fill="#333">90/</tspan><tspan font-weight="bold" font-style="italic" fill="#111">99</tspan></text>
<text x="70.8" y="1269.3" font-size="9.6" textLength="10.7" lengthAdjust="spacingAndGlyphs"><tspan fill="#333">73</tspan></text>
<text x="96.4" y="1338.8" font-size="9.6" textLength="33.5" lengthAdjust="spacingAndGlyphs"><tspan fill="#333">100/</tspan><tspan font-weight="bold" font-style="italic" fill="#111">100</tspan></text>
<text x="87.9" y="1361.8" font-size="9.6" textLength="24.1" lengthAdjust="spacingAndGlyphs"><tspan fill="#333">99/</tspan><tspan font-weight="bold" font-style="italic" fill="#111">99</tspan></text>
<text x="70.0" y="1388.0" font-size="9.6" textLength="32.7" lengthAdjust="spacingAndGlyphs"><tspan fill="#333">100/</tspan><tspan font-weight="bold" font-style="italic" fill="#111">100</tspan></text>
<text x="34.2" y="1410.3" font-size="9.6" textLength="32.7" lengthAdjust="spacingAndGlyphs"><tspan fill="#333">100/</tspan><tspan font-weight="bold" font-style="italic" fill="#111">100</tspan></text>
<text x="4.7" y="1420.1" font-size="9.6" textLength="23.3" lengthAdjust="spacingAndGlyphs"><tspan fill="#333">96/</tspan><tspan font-weight="bold" font-style="italic" fill="#111">97</tspan></text>
<line x1="781.4" y1="0.0" x2="781.4" y2="243.7" stroke="#444" stroke-width="1.5"/>
<line x1="659.6" y1="103.2" x2="659.6" y2="160.3" stroke="#4a8acb" stroke-width="1.5"/>
<line x1="660.0" y1="248.0" x2="660.0" y2="323.7" stroke="#444" stroke-width="1.5"/>
<line x1="758.9" y1="327.5" x2="758.9" y2="496.4" stroke="#444" stroke-width="1.5"/>
<line x1="395.1" y1="510.7" x2="395.1" y2="963.5" stroke="#444" stroke-width="1.5"/>
<line x1="426.9" y1="987.6" x2="426.9" y2="1308.9" stroke="#444" stroke-width="1.5"/>
<line x1="427.6" y1="1350.2" x2="427.6" y2="1369.5" stroke="#444" stroke-width="1.5"/>
<text x="790.2" y="167.0" font-size="21.5" fill="#1a1a1a" font-style="italic" textLength="151.3" lengthAdjust="spacingAndGlyphs">Trebouxia jamesii</text>
<text x="663.4" y="137.4" font-size="16.5" fill="#3d80c8" font-style="italic" textLength="61.5" lengthAdjust="spacingAndGlyphs">T. jamesii</text>
<text x="732.2" y="137.4" font-size="16.5" fill="#3d80c8" textLength="43.9" lengthAdjust="spacingAndGlyphs">subsp.</text>
<text x="674.5" y="288.5" font-size="21.5" fill="#1a1a1a" font-style="italic" textLength="84.1" lengthAdjust="spacingAndGlyphs">Trebouxia</text>
<text x="768.8" y="288.5" font-size="21.5" fill="#1a1a1a" textLength="85.8" lengthAdjust="spacingAndGlyphs">sp. URa1</text>
<text x="767.3" y="414.4" font-size="21.5" fill="#1a1a1a" font-style="italic" textLength="165.4" lengthAdjust="spacingAndGlyphs">Trebouxia impressa</text>
<text x="415.4" y="737.0" font-size="21.5" fill="#1a1a1a" font-style="italic" textLength="84.5" lengthAdjust="spacingAndGlyphs">Trebouxia</text>
<text x="508.5" y="737.0" font-size="21.5" fill="#1a1a1a" textLength="87.5" lengthAdjust="spacingAndGlyphs">sp. URa2</text>
<text x="435.2" y="1146.4" font-size="21.5" fill="#1a1a1a" font-style="italic" textLength="84.9" lengthAdjust="spacingAndGlyphs">Trebouxia</text>
<text x="529.6" y="1146.4" font-size="21.5" fill="#1a1a1a" textLength="86.9" lengthAdjust="spacingAndGlyphs">sp. URa3</text>
<text x="435.7" y="1367.1" font-size="21.5" fill="#1a1a1a" font-style="italic" textLength="85.6" lengthAdjust="spacingAndGlyphs">Trebouxia</text>
<text x="530.4" y="1367.1" font-size="21.5" fill="#1a1a1a" textLength="87.2" lengthAdjust="spacingAndGlyphs">sp. URa4</text>
<text x="1.4" y="1471.2" font-size="20" fill="#1a1a1a" textLength="26" lengthAdjust="spacingAndGlyphs">0·1</text>
<line x1="1.4" y1="1476.3" x2="17.0" y2="1476.3" stroke="#333" stroke-width="1.2"/>
<text x="44.5" y="1471.2" font-size="20" fill="#111" textLength="249.2" lengthAdjust="spacingAndGlyphs">MP/<tspan font-weight="bold" font-style="italic">ML</tspan> / <tspan font-weight="bold">MrBayes &gt; 0·95</tspan></text>
<path d="M995,86 L995.00,11.50 A74.5,74.5 0 0 1 1067.29,104.02 Z" fill="#bcd3ee" stroke="#1a1a1a" stroke-width="0.7" stroke-linejoin="round"/>
<path d="M995,86 L1067.29,104.02 A74.5,74.5 0 0 1 1015.03,157.76 Z" fill="#2773c1" stroke="#1a1a1a" stroke-width="0.7" stroke-linejoin="round"/>
<path d="M995,86 L1015.03,157.76 A74.5,74.5 0 0 1 975.72,157.96 Z" fill="#2b2567" stroke="#1a1a1a" stroke-width="0.7" stroke-linejoin="round"/>
<path d="M995,86 L975.72,157.96 A74.5,74.5 0 0 1 941.41,137.75 Z" fill="url(#p1IV)" stroke="#1a1a1a" stroke-width="0.7" stroke-linejoin="round"/>
<path d="M995,86 L941.41,137.75 A74.5,74.5 0 0 1 929.84,49.88 Z" fill="url(#p1V)" stroke="#1a1a1a" stroke-width="0.7" stroke-linejoin="round"/>
<path d="M995,86 L929.84,49.88 A74.5,74.5 0 0 1 995.00,11.50 Z" fill="url(#p1VI)" stroke="#1a1a1a" stroke-width="0.7" stroke-linejoin="round"/>
<text x="1029" y="63.2" font-size="12.5" font-weight="bold" fill="#111" text-anchor="middle">I</text>
<text x="1029" y="125.2" font-size="12.5" font-weight="bold" fill="#fff" text-anchor="middle">II</text>
<text x="999" y="141.2" font-size="12.5" font-weight="bold" fill="#fff" text-anchor="middle">III</text>
<text x="968" y="135.2" font-size="12.5" font-weight="bold" fill="#fff" text-anchor="middle">IV</text>
<text x="950" y="95.2" font-size="12.5" font-weight="bold" fill="#fff" text-anchor="middle">V</text>
<text x="974" y="50.2" font-size="12.5" font-weight="bold" fill="#fff" text-anchor="middle">VI</text>
<circle cx="995" cy="86" r="74.5" fill="none" stroke="#555" stroke-width="0.8"/>
<circle cx="997" cy="268" r="33.6" fill="#a3bee0" stroke="#111" stroke-width="1.7"/>
<text x="997.5" y="272.2" font-size="12" font-weight="bold" fill="#111" text-anchor="middle">I</text>
<path d="M1018,406 L1018.00,331.70 A74.3,74.3 0 0 1 1092.30,406.00 Z" fill="#bcd3ee" stroke="#1a1a1a" stroke-width="0.7" stroke-linejoin="round"/>
<path d="M1018,406 L1092.30,406.00 A74.3,74.3 0 0 1 990.17,474.89 Z" fill="#2b2567" stroke="#1a1a1a" stroke-width="0.7" stroke-linejoin="round"/>
<path d="M1018,406 L990.17,474.89 A74.3,74.3 0 0 1 990.17,337.11 Z" fill="url(#p3V)" stroke="#1a1a1a" stroke-width="0.7" stroke-linejoin="round"/>
<path d="M1018,406 L990.17,337.11 A74.3,74.3 0 0 1 1018.00,331.70 Z" fill="url(#p3VI)" stroke="#1a1a1a" stroke-width="0.7" stroke-linejoin="round"/>
<text x="1053" y="386.2" font-size="12.5" font-weight="bold" fill="#111" text-anchor="middle">I</text>
<text x="1040" y="450.2" font-size="12.5" font-weight="bold" fill="#fff" text-anchor="middle">III</text>
<text x="981.5" y="410.7" font-size="12.5" font-weight="bold" fill="#fff" text-anchor="middle">V</text>
<text x="1011" y="369.2" font-size="12.5" font-weight="bold" fill="#fff" text-anchor="middle">VI</text>
<circle cx="1018" cy="406" r="74.3" fill="none" stroke="#555" stroke-width="0.8"/>
<path d="M762.5,721.5 L762.50,646.50 A75,75 0 0 1 798.86,787.10 Z" fill="#2773c1" stroke="#1a1a1a" stroke-width="0.7" stroke-linejoin="round"/>
<path d="M762.5,721.5 L798.86,787.10 A75,75 0 1 1 741.07,649.63 Z" fill="#2b2567" stroke="#1a1a1a" stroke-width="0.7" stroke-linejoin="round"/>
<path d="M762.5,721.5 L741.07,649.63 A75,75 0 0 1 762.50,646.50 Z" fill="url(#p4V)" stroke="#1a1a1a" stroke-width="0.7" stroke-linejoin="round"/>
<text x="799.4" y="719.9000000000001" font-size="12.5" font-weight="bold" fill="#fff" text-anchor="middle">II</text>
<text x="731.8" y="739.8000000000001" font-size="12.5" font-weight="bold" fill="#fff" text-anchor="middle">III</text>
<text x="756.7" y="676.1" font-size="12.5" font-weight="bold" fill="#fff" text-anchor="middle">V</text>
<circle cx="762.5" cy="721.5" r="75" fill="none" stroke="#555" stroke-width="0.8"/>
<path d="M759.5,1130 L759.50,1055.50 A74.5,74.5 0 0 1 830.43,1107.23 Z" fill="#bcd3ee" stroke="#1a1a1a" stroke-width="0.7" stroke-linejoin="round"/>
<path d="M759.5,1130 L830.43,1107.23 A74.5,74.5 0 0 1 803.29,1190.27 Z" fill="#2773c1" stroke="#1a1a1a" stroke-width="0.7" stroke-linejoin="round"/>
<path d="M759.5,1130 L803.29,1190.27 A74.5,74.5 0 0 1 703.88,1080.44 Z" fill="#2b2567" stroke="#1a1a1a" stroke-width="0.7" stroke-linejoin="round"/>
<path d="M759.5,1130 L703.88,1080.44 A74.5,74.5 0 0 1 743.76,1057.18 Z" fill="url(#p5V)" stroke="#1a1a1a" stroke-width="0.7" stroke-linejoin="round"/>
<path d="M759.5,1130 L743.76,1057.18 A74.5,74.5 0 0 1 759.50,1055.50 Z" fill="url(#p5VI)" stroke="#1a1a1a" stroke-width="0.7" stroke-linejoin="round"/>
<text x="791.5" y="1100.2" font-size="12.5" font-weight="bold" fill="#111" text-anchor="middle">I</text>
<text x="797.7" y="1151.5" font-size="12.5" font-weight="bold" fill="#fff" text-anchor="middle">II</text>
<text x="735.2" y="1162.4" font-size="12.5" font-weight="bold" fill="#fff" text-anchor="middle">III</text>
<text x="734" y="1092.4" font-size="12.5" font-weight="bold" fill="#fff" text-anchor="middle">V</text>
<text x="753" y="1081.1000000000001" font-size="12.5" font-weight="bold" fill="#fff" text-anchor="middle">VI</text>
<circle cx="759.5" cy="1130" r="74.5" fill="none" stroke="#555" stroke-width="0.8"/>
<rect x="757.3" y="1345.1" width="100.2" height="22.5" fill="#8cb1e2"/>
<text x="640.8" y="1360.9" font-size="15" fill="#111" textLength="64.6" lengthAdjust="spacingAndGlyphs">Antarctica</text>
<text x="763.3" y="1360.9" font-size="15" fill="#111">I</text>
<text x="862.6" y="1360.9" font-size="15" fill="#111" textLength="78.7" lengthAdjust="spacingAndGlyphs">dry and cold</text>
<rect x="757.3" y="1367.6" width="100.2" height="22.4" fill="#2672c1"/>
<text x="640.8" y="1383.4" font-size="15" fill="#111" textLength="64.6" lengthAdjust="spacingAndGlyphs">Antarctica</text>
<text x="763.3" y="1383.4" font-size="15" fill="#fff">II</text>
<text x="862.6" y="1383.4" font-size="15" fill="#111" textLength="78.7" lengthAdjust="spacingAndGlyphs">intermediate</text>
<rect x="757.3" y="1390.0" width="100.2" height="22.4" fill="#2a2468"/>
<text x="640.8" y="1405.8" font-size="15" fill="#111" textLength="64.6" lengthAdjust="spacingAndGlyphs">Antarctica</text>
<text x="763.3" y="1405.8" font-size="15" fill="#fff">III</text>
<text x="862.6" y="1405.8" font-size="15" fill="#111" textLength="162" lengthAdjust="spacingAndGlyphs">humid and relatively warm</text>
<rect x="757.3" y="1412.4" width="100.2" height="22.2" fill="#1f8a88"/>
<text x="640.8" y="1428.1" font-size="15" fill="#111" textLength="93" lengthAdjust="spacingAndGlyphs">South America</text>
<text x="763.3" y="1428.1" font-size="15" fill="#111">IV</text>
<text x="862.6" y="1428.1" font-size="15" fill="#111" textLength="162" lengthAdjust="spacingAndGlyphs">humid and relatively warm</text>
<rect x="757.3" y="1434.6" width="100.2" height="21.8" fill="#fdbd2e"/>
<text x="640.8" y="1450.1" font-size="15" fill="#111" textLength="88" lengthAdjust="spacingAndGlyphs">Europe, USA</text>
<text x="763.3" y="1450.1" font-size="15" fill="#111">V</text>
<text x="862.6" y="1450.1" font-size="15" fill="#111" textLength="63" lengthAdjust="spacingAndGlyphs">temperate</text>
<rect x="757.3" y="1456.4" width="100.2" height="22.2" fill="#ef3b2b"/>
<text x="640.8" y="1472.1" font-size="15" fill="#111" textLength="37.5" lengthAdjust="spacingAndGlyphs">Arctic</text>
<text x="763.3" y="1472.1" font-size="15" fill="#111">VI</text>
<text x="862.6" y="1472.1" font-size="15" fill="#111" textLength="162" lengthAdjust="spacingAndGlyphs">humid and relatively warm</text>
<rect x="790.1" y="1414.9" width="62.6" height="16.8" fill="#4a7d7a"/>
<rect x="796.7" y="1415.5" width="1.6" height="15.9" fill="#111"/>
<rect x="805.4" y="1415.5" width="1.6" height="15.9" fill="#111"/>
<rect x="813.4" y="1415.5" width="1.6" height="15.9" fill="#111"/>
<rect x="821.9" y="1415.5" width="1.6" height="15.9" fill="#111"/>
<rect x="830.7" y="1415.5" width="1.6" height="15.9" fill="#111"/>
<rect x="838.7" y="1415.5" width="1.6" height="15.9" fill="#111"/>
<rect x="847.2" y="1415.5" width="1.6" height="15.9" fill="#111"/>
<rect x="794.5" y="1438.2" width="54.9" height="1.2" fill="#3a2f1a"/>
<rect x="794.5" y="1442.7" width="54.9" height="1.2" fill="#3a2f1a"/>
<rect x="794.5" y="1447.3" width="54.9" height="1.2" fill="#3a2f1a"/>
<rect x="794.5" y="1451.9" width="54.9" height="1.2" fill="#3a2f1a"/>
<rect x="795" y="1458.3" width="55" height="17.6" fill="#ef5040"/>
<rect x="799.9" y="1458.3" width="2.2" height="17" fill="#111"/>
<rect x="810.9" y="1458.3" width="2.2" height="17" fill="#111"/>
<rect x="822.2" y="1458.3" width="2.2" height="17" fill="#111"/>
<rect x="833.4" y="1458.3" width="2.2" height="17" fill="#111"/>
<rect x="844.4" y="1458.3" width="2.2" height="17" fill="#111"/>
<rect x="795" y="1462.0" width="54.4" height="2" fill="#111"/>
<rect x="795" y="1470.2" width="54.4" height="2" fill="#111"/>
<line x1="634.9" y1="1345.1" x2="1028.3" y2="1345.1" stroke="#222" stroke-width="1.1"/>
<line x1="634.9" y1="1367.6" x2="1028.3" y2="1367.6" stroke="#222" stroke-width="1.1"/>
<line x1="634.9" y1="1390.0" x2="1028.3" y2="1390.0" stroke="#222" stroke-width="1.1"/>
<line x1="634.9" y1="1412.4" x2="1028.3" y2="1412.4" stroke="#222" stroke-width="1.1"/>
<line x1="634.9" y1="1434.6" x2="1028.3" y2="1434.6" stroke="#222" stroke-width="1.1"/>
<line x1="634.9" y1="1456.4" x2="1028.3" y2="1456.4" stroke="#222" stroke-width="1.1"/>
<line x1="634.9" y1="1478.6" x2="1028.3" y2="1478.6" stroke="#222" stroke-width="1.1"/>
<line x1="634.9" y1="1345.1" x2="634.9" y2="1478.6" stroke="#222" stroke-width="1.1"/>
<line x1="757.3" y1="1345.1" x2="757.3" y2="1478.6" stroke="#222" stroke-width="1.1"/>
<line x1="857.5" y1="1345.1" x2="857.5" y2="1478.6" stroke="#222" stroke-width="1.1"/>
<line x1="1028.3" y1="1345.1" x2="1028.3" y2="1478.6" stroke="#222" stroke-width="1.1"/>
</svg></body></html>
